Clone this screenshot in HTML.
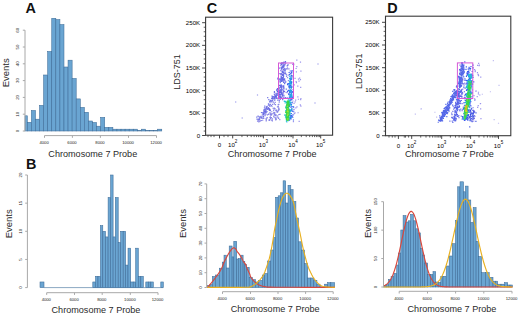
<!DOCTYPE html>
<html><head><meta charset="utf-8"><style>
html,body{margin:0;padding:0;background:#fff;}
body{width:520px;height:314px;overflow:hidden;}
svg{display:block;font-family:"Liberation Sans", sans-serif;}
</style></head><body>
<svg width="520" height="314" viewBox="0 0 520 314">
<rect width="520" height="314" fill="#fff"/>
<text x="25.5" y="12.8" font-size="14.4" text-anchor="start" font-weight="bold" fill="#111" >A</text>
<g fill="#6aa5d2" stroke="#3d6c98" stroke-width="0.55">
<rect x="25" y="115.8" width="2.3" height="15.2"/>
<rect x="27.3" y="122.3" width="4.07" height="8.7"/>
<rect x="31.38" y="110.5" width="4.08" height="20.5"/>
<rect x="35.45" y="119.2" width="4.08" height="11.8"/>
<rect x="39.53" y="105.4" width="4.08" height="25.6"/>
<rect x="43.6" y="75" width="4.08" height="56"/>
<rect x="47.67" y="51.5" width="4.08" height="79.5"/>
<rect x="51.75" y="18.3" width="4.08" height="112.7"/>
<rect x="55.83" y="19.6" width="4.08" height="111.4"/>
<rect x="59.9" y="24.6" width="4.08" height="106.4"/>
<rect x="63.98" y="67" width="4.08" height="64"/>
<rect x="68.05" y="60.2" width="4.08" height="70.8"/>
<rect x="72.12" y="78.5" width="4.08" height="52.5"/>
<rect x="76.2" y="98.9" width="4.08" height="32.1"/>
<rect x="80.28" y="107.4" width="4.08" height="23.6"/>
<rect x="84.35" y="112.3" width="4.08" height="18.7"/>
<rect x="88.42" y="121" width="4.08" height="10"/>
<rect x="92.5" y="122.5" width="4.08" height="8.5"/>
<rect x="96.58" y="126.2" width="4.08" height="4.8"/>
<rect x="100.65" y="117.4" width="4.08" height="13.6"/>
<rect x="104.72" y="127.4" width="4.08" height="3.6"/>
<rect x="108.8" y="127.4" width="4.08" height="3.6"/>
<rect x="112.88" y="129.2" width="4.08" height="1.8"/>
<rect x="116.95" y="129.2" width="4.08" height="1.8"/>
<rect x="121.03" y="129.2" width="4.08" height="1.8"/>
<rect x="125.1" y="129.2" width="4.08" height="1.8"/>
<rect x="129.18" y="129.2" width="4.07" height="1.8"/>
<rect x="133.25" y="129.2" width="4.07" height="1.8"/>
<rect x="137.33" y="130.7" width="4.07" height="0.3"/>
<rect x="141.4" y="129.2" width="4.07" height="1.8"/>
<rect x="145.48" y="130.7" width="4.07" height="0.3"/>
<rect x="149.55" y="130.7" width="4.07" height="0.3"/>
<rect x="153.62" y="130.7" width="4.07" height="0.3"/>
<rect x="157.7" y="129.2" width="4.07" height="1.8"/>
</g>
<line x1="25" y1="131" x2="25" y2="30.2" stroke="#a8a8a8" stroke-width="1.0"/>
<line x1="22.8" y1="131" x2="25" y2="131" stroke="#a8a8a8" stroke-width="1.0"/>
<text transform="translate(19.2,131) rotate(-90)" font-size="4.4" text-anchor="middle" font-weight="normal" fill="#222" >0</text>
<line x1="22.8" y1="114.2" x2="25" y2="114.2" stroke="#a8a8a8" stroke-width="1.0"/>
<text transform="translate(19.2,114.2) rotate(-90)" font-size="4.4" text-anchor="middle" font-weight="normal" fill="#222" >10</text>
<line x1="22.8" y1="97.4" x2="25" y2="97.4" stroke="#a8a8a8" stroke-width="1.0"/>
<text transform="translate(19.2,97.4) rotate(-90)" font-size="4.4" text-anchor="middle" font-weight="normal" fill="#222" >20</text>
<line x1="22.8" y1="80.6" x2="25" y2="80.6" stroke="#a8a8a8" stroke-width="1.0"/>
<text transform="translate(19.2,80.6) rotate(-90)" font-size="4.4" text-anchor="middle" font-weight="normal" fill="#222" >30</text>
<line x1="22.8" y1="63.8" x2="25" y2="63.8" stroke="#a8a8a8" stroke-width="1.0"/>
<text transform="translate(19.2,63.8) rotate(-90)" font-size="4.4" text-anchor="middle" font-weight="normal" fill="#222" >40</text>
<line x1="22.8" y1="47" x2="25" y2="47" stroke="#a8a8a8" stroke-width="1.0"/>
<text transform="translate(19.2,47) rotate(-90)" font-size="4.4" text-anchor="middle" font-weight="normal" fill="#222" >50</text>
<line x1="22.8" y1="30.2" x2="25" y2="30.2" stroke="#a8a8a8" stroke-width="1.0"/>
<text transform="translate(19.2,30.2) rotate(-90)" font-size="4.4" text-anchor="middle" font-weight="normal" fill="#222" >60</text>
<line x1="44.5" y1="135.6" x2="156.5" y2="135.6" stroke="#a8a8a8" stroke-width="1.0"/>
<line x1="44.5" y1="135.6" x2="44.5" y2="137.8" stroke="#a8a8a8" stroke-width="1.0"/>
<text x="44.1" y="144" font-size="4.2" text-anchor="middle" font-weight="normal" fill="#222" >4000</text>
<line x1="72.4" y1="135.6" x2="72.4" y2="137.8" stroke="#a8a8a8" stroke-width="1.0"/>
<text x="72" y="144" font-size="4.2" text-anchor="middle" font-weight="normal" fill="#222" >6000</text>
<line x1="100.4" y1="135.6" x2="100.4" y2="137.8" stroke="#a8a8a8" stroke-width="1.0"/>
<text x="100" y="144" font-size="4.2" text-anchor="middle" font-weight="normal" fill="#222" >8000</text>
<line x1="128.5" y1="135.6" x2="128.5" y2="137.8" stroke="#a8a8a8" stroke-width="1.0"/>
<text x="128.1" y="144" font-size="4.2" text-anchor="middle" font-weight="normal" fill="#222" >10000</text>
<line x1="156.5" y1="135.6" x2="156.5" y2="137.8" stroke="#a8a8a8" stroke-width="1.0"/>
<text x="156.1" y="144" font-size="4.2" text-anchor="middle" font-weight="normal" fill="#222" >12000</text>
<text x="48.34" y="157.3" font-size="9.1" fill="#2a2a2a" textLength="88.9" lengthAdjust="spacingAndGlyphs">Chromosome 7 Probe</text>
<text transform="translate(9.1,72.85) rotate(-90)" font-size="9.3" fill="#2a2a2a" text-anchor="middle" textLength="29" lengthAdjust="spacingAndGlyphs">Events</text>
<text x="25.9" y="168.5" font-size="14.4" text-anchor="start" font-weight="bold" fill="#111" >B</text>
<line x1="44" y1="287.6" x2="163.3" y2="287.6" stroke="#3d6c98" stroke-width="0.6"/>
<g fill="#6aa5d2" stroke="#3d6c98" stroke-width="0.55">
<rect x="40" y="281.97" width="4" height="5.63"/>
<rect x="92.8" y="281.97" width="2.7" height="5.63"/>
<rect x="95.5" y="276.34" width="2.5" height="11.26"/>
<rect x="98" y="276.34" width="2.4" height="11.26"/>
<rect x="100.4" y="225.67" width="2.4" height="61.93"/>
<rect x="102.8" y="231.3" width="2.7" height="56.3"/>
<rect x="105.5" y="236.93" width="2.6" height="50.67"/>
<rect x="108.1" y="197.52" width="2.5" height="90.08"/>
<rect x="110.6" y="175" width="2.5" height="112.6"/>
<rect x="113.1" y="236.93" width="2.2" height="50.67"/>
<rect x="115.3" y="197.52" width="2.9" height="90.08"/>
<rect x="118.2" y="242.56" width="2.4" height="45.04"/>
<rect x="120.6" y="231.3" width="2.6" height="56.3"/>
<rect x="123.2" y="231.3" width="2.4" height="56.3"/>
<rect x="125.6" y="265.08" width="2.4" height="22.52"/>
<rect x="128" y="248.19" width="2.7" height="39.41"/>
<rect x="130.7" y="281.97" width="2.5" height="5.63"/>
<rect x="133.2" y="281.97" width="2.5" height="5.63"/>
<rect x="135.7" y="248.19" width="2.6" height="39.41"/>
<rect x="138.3" y="276.34" width="2.5" height="11.26"/>
<rect x="140.8" y="276.34" width="2.5" height="11.26"/>
<rect x="145.8" y="281.97" width="2.5" height="5.63"/>
<rect x="148.3" y="281.97" width="2.5" height="5.63"/>
<rect x="150.8" y="281.97" width="2.5" height="5.63"/>
<rect x="160.8" y="281.97" width="2.5" height="5.63"/>
</g>
<line x1="27.4" y1="287.6" x2="27.4" y2="175" stroke="#a8a8a8" stroke-width="1.0"/>
<line x1="25.2" y1="287.6" x2="27.4" y2="287.6" stroke="#a8a8a8" stroke-width="1.0"/>
<text transform="translate(22,287.6) rotate(-90)" font-size="4.4" text-anchor="middle" font-weight="normal" fill="#222" >0</text>
<line x1="25.2" y1="259.45" x2="27.4" y2="259.45" stroke="#a8a8a8" stroke-width="1.0"/>
<text transform="translate(22,259.45) rotate(-90)" font-size="4.4" text-anchor="middle" font-weight="normal" fill="#222" >5</text>
<line x1="25.2" y1="231.3" x2="27.4" y2="231.3" stroke="#a8a8a8" stroke-width="1.0"/>
<text transform="translate(22,231.3) rotate(-90)" font-size="4.4" text-anchor="middle" font-weight="normal" fill="#222" >10</text>
<line x1="25.2" y1="203.15" x2="27.4" y2="203.15" stroke="#a8a8a8" stroke-width="1.0"/>
<text transform="translate(22,203.15) rotate(-90)" font-size="4.4" text-anchor="middle" font-weight="normal" fill="#222" >15</text>
<line x1="25.2" y1="175" x2="27.4" y2="175" stroke="#a8a8a8" stroke-width="1.0"/>
<text transform="translate(22,175) rotate(-90)" font-size="4.4" text-anchor="middle" font-weight="normal" fill="#222" >20</text>
<line x1="46.7" y1="292.7" x2="158" y2="292.7" stroke="#a8a8a8" stroke-width="1.0"/>
<line x1="46.7" y1="292.7" x2="46.7" y2="294.9" stroke="#a8a8a8" stroke-width="1.0"/>
<text x="46.3" y="300.5" font-size="4.2" text-anchor="middle" font-weight="normal" fill="#222" >4000</text>
<line x1="74.5" y1="292.7" x2="74.5" y2="294.9" stroke="#a8a8a8" stroke-width="1.0"/>
<text x="74.1" y="300.5" font-size="4.2" text-anchor="middle" font-weight="normal" fill="#222" >6000</text>
<line x1="102.2" y1="292.7" x2="102.2" y2="294.9" stroke="#a8a8a8" stroke-width="1.0"/>
<text x="101.8" y="300.5" font-size="4.2" text-anchor="middle" font-weight="normal" fill="#222" >8000</text>
<line x1="130.3" y1="292.7" x2="130.3" y2="294.9" stroke="#a8a8a8" stroke-width="1.0"/>
<text x="129.9" y="300.5" font-size="4.2" text-anchor="middle" font-weight="normal" fill="#222" >10000</text>
<line x1="158" y1="292.7" x2="158" y2="294.9" stroke="#a8a8a8" stroke-width="1.0"/>
<text x="157.6" y="300.5" font-size="4.2" text-anchor="middle" font-weight="normal" fill="#222" >12000</text>
<text x="51.54" y="312.6" font-size="9.1" fill="#2a2a2a" textLength="88.9" lengthAdjust="spacingAndGlyphs">Chromosome 7 Probe</text>
<text transform="translate(12.1,223.8) rotate(-90)" font-size="9.3" fill="#2a2a2a" text-anchor="middle" textLength="29" lengthAdjust="spacingAndGlyphs">Events</text>
<text x="206.8" y="12.8" font-size="14.4" text-anchor="start" font-weight="bold" fill="#111" >C</text>
<rect x="205.6" y="17.2" width="127" height="118" fill="none" stroke="#3a3a3a" stroke-width="1.1"/>
<line x1="202.1" y1="22.7" x2="205.6" y2="22.7" stroke="#333" stroke-width="0.9"/>
<text x="200.1" y="24.8" font-size="6.1" text-anchor="end" font-weight="normal" fill="#000" >250K</text>
<line x1="202.1" y1="45.35" x2="205.6" y2="45.35" stroke="#333" stroke-width="0.9"/>
<text x="200.1" y="47.45" font-size="6.1" text-anchor="end" font-weight="normal" fill="#000" >200K</text>
<line x1="202.1" y1="68" x2="205.6" y2="68" stroke="#333" stroke-width="0.9"/>
<text x="200.1" y="70.1" font-size="6.1" text-anchor="end" font-weight="normal" fill="#000" >150K</text>
<line x1="202.1" y1="90.65" x2="205.6" y2="90.65" stroke="#333" stroke-width="0.9"/>
<text x="200.1" y="92.75" font-size="6.1" text-anchor="end" font-weight="normal" fill="#000" >100K</text>
<line x1="202.1" y1="113.3" x2="205.6" y2="113.3" stroke="#333" stroke-width="0.9"/>
<text x="200.1" y="115.4" font-size="6.1" text-anchor="end" font-weight="normal" fill="#000" >50K</text>
<line x1="202.1" y1="135.5" x2="205.6" y2="135.5" stroke="#333" stroke-width="0.9"/>
<text x="200.1" y="137.6" font-size="6.1" text-anchor="end" font-weight="normal" fill="#000" >0</text>
<line x1="219.5" y1="135.2" x2="219.5" y2="138.4" stroke="#333" stroke-width="0.9"/>
<text x="219.5" y="146.6" font-size="6.1" text-anchor="middle" font-weight="normal" fill="#000" >0</text>
<line x1="232.7" y1="135.2" x2="232.7" y2="138.4" stroke="#333" stroke-width="0.9"/>
<text x="232.7" y="146.6" font-size="6.1" text-anchor="middle" fill="#000">10<tspan font-size="4.5" dy="-3.6">2</tspan></text>
<line x1="263.4" y1="135.2" x2="263.4" y2="138.4" stroke="#333" stroke-width="0.9"/>
<text x="263.4" y="146.6" font-size="6.1" text-anchor="middle" fill="#000">10<tspan font-size="4.5" dy="-3.6">3</tspan></text>
<line x1="293" y1="135.2" x2="293" y2="138.4" stroke="#333" stroke-width="0.9"/>
<text x="293" y="146.6" font-size="6.1" text-anchor="middle" fill="#000">10<tspan font-size="4.5" dy="-3.6">4</tspan></text>
<line x1="320.7" y1="135.2" x2="320.7" y2="138.4" stroke="#333" stroke-width="0.9"/>
<text x="320.7" y="146.6" font-size="6.1" text-anchor="middle" fill="#000">10<tspan font-size="4.5" dy="-3.6">5</tspan></text>
<text transform="translate(179.9,72.1) rotate(-90)" font-size="9.0" fill="#2a2a2a" text-anchor="middle">LDS-751</text>
<text x="227.74" y="157.4" font-size="9.1" fill="#2a2a2a" textLength="88.9" lengthAdjust="spacingAndGlyphs">Chromosome 7 Probe</text>
<line x1="203.7" y1="27.23" x2="205.6" y2="27.23" stroke="#333" stroke-width="0.75"/>
<line x1="203.7" y1="31.76" x2="205.6" y2="31.76" stroke="#333" stroke-width="0.75"/>
<line x1="203.7" y1="36.29" x2="205.6" y2="36.29" stroke="#333" stroke-width="0.75"/>
<line x1="203.7" y1="40.82" x2="205.6" y2="40.82" stroke="#333" stroke-width="0.75"/>
<line x1="203.7" y1="49.88" x2="205.6" y2="49.88" stroke="#333" stroke-width="0.75"/>
<line x1="203.7" y1="54.41" x2="205.6" y2="54.41" stroke="#333" stroke-width="0.75"/>
<line x1="203.7" y1="58.94" x2="205.6" y2="58.94" stroke="#333" stroke-width="0.75"/>
<line x1="203.7" y1="63.47" x2="205.6" y2="63.47" stroke="#333" stroke-width="0.75"/>
<line x1="203.7" y1="72.53" x2="205.6" y2="72.53" stroke="#333" stroke-width="0.75"/>
<line x1="203.7" y1="77.06" x2="205.6" y2="77.06" stroke="#333" stroke-width="0.75"/>
<line x1="203.7" y1="81.59" x2="205.6" y2="81.59" stroke="#333" stroke-width="0.75"/>
<line x1="203.7" y1="86.12" x2="205.6" y2="86.12" stroke="#333" stroke-width="0.75"/>
<line x1="203.7" y1="95.18" x2="205.6" y2="95.18" stroke="#333" stroke-width="0.75"/>
<line x1="203.7" y1="99.71" x2="205.6" y2="99.71" stroke="#333" stroke-width="0.75"/>
<line x1="203.7" y1="104.24" x2="205.6" y2="104.24" stroke="#333" stroke-width="0.75"/>
<line x1="203.7" y1="108.77" x2="205.6" y2="108.77" stroke="#333" stroke-width="0.75"/>
<line x1="203.7" y1="117.74" x2="205.6" y2="117.74" stroke="#333" stroke-width="0.75"/>
<line x1="203.7" y1="122.18" x2="205.6" y2="122.18" stroke="#333" stroke-width="0.75"/>
<line x1="203.7" y1="126.62" x2="205.6" y2="126.62" stroke="#333" stroke-width="0.75"/>
<line x1="203.7" y1="131.06" x2="205.6" y2="131.06" stroke="#333" stroke-width="0.75"/>
<line x1="241.94" y1="135.2" x2="241.94" y2="137.1" stroke="#333" stroke-width="0.75"/>
<line x1="247.35" y1="135.2" x2="247.35" y2="137.1" stroke="#333" stroke-width="0.75"/>
<line x1="251.18" y1="135.2" x2="251.18" y2="137.1" stroke="#333" stroke-width="0.75"/>
<line x1="254.16" y1="135.2" x2="254.16" y2="137.1" stroke="#333" stroke-width="0.75"/>
<line x1="256.59" y1="135.2" x2="256.59" y2="137.1" stroke="#333" stroke-width="0.75"/>
<line x1="258.64" y1="135.2" x2="258.64" y2="137.1" stroke="#333" stroke-width="0.75"/>
<line x1="260.42" y1="135.2" x2="260.42" y2="137.1" stroke="#333" stroke-width="0.75"/>
<line x1="262" y1="135.2" x2="262" y2="137.1" stroke="#333" stroke-width="0.75"/>
<line x1="272.31" y1="135.2" x2="272.31" y2="137.1" stroke="#333" stroke-width="0.75"/>
<line x1="277.52" y1="135.2" x2="277.52" y2="137.1" stroke="#333" stroke-width="0.75"/>
<line x1="281.22" y1="135.2" x2="281.22" y2="137.1" stroke="#333" stroke-width="0.75"/>
<line x1="284.09" y1="135.2" x2="284.09" y2="137.1" stroke="#333" stroke-width="0.75"/>
<line x1="286.43" y1="135.2" x2="286.43" y2="137.1" stroke="#333" stroke-width="0.75"/>
<line x1="288.41" y1="135.2" x2="288.41" y2="137.1" stroke="#333" stroke-width="0.75"/>
<line x1="290.13" y1="135.2" x2="290.13" y2="137.1" stroke="#333" stroke-width="0.75"/>
<line x1="291.65" y1="135.2" x2="291.65" y2="137.1" stroke="#333" stroke-width="0.75"/>
<line x1="301.34" y1="135.2" x2="301.34" y2="137.1" stroke="#333" stroke-width="0.75"/>
<line x1="306.22" y1="135.2" x2="306.22" y2="137.1" stroke="#333" stroke-width="0.75"/>
<line x1="309.68" y1="135.2" x2="309.68" y2="137.1" stroke="#333" stroke-width="0.75"/>
<line x1="312.36" y1="135.2" x2="312.36" y2="137.1" stroke="#333" stroke-width="0.75"/>
<line x1="314.55" y1="135.2" x2="314.55" y2="137.1" stroke="#333" stroke-width="0.75"/>
<line x1="316.41" y1="135.2" x2="316.41" y2="137.1" stroke="#333" stroke-width="0.75"/>
<line x1="318.02" y1="135.2" x2="318.02" y2="137.1" stroke="#333" stroke-width="0.75"/>
<line x1="319.43" y1="135.2" x2="319.43" y2="137.1" stroke="#333" stroke-width="0.75"/>
<line x1="208" y1="135.2" x2="208" y2="137.1" stroke="#333" stroke-width="0.75"/>
<line x1="211" y1="135.2" x2="211" y2="137.1" stroke="#333" stroke-width="0.75"/>
<line x1="214" y1="135.2" x2="214" y2="137.1" stroke="#333" stroke-width="0.75"/>
<line x1="224" y1="135.2" x2="224" y2="137.1" stroke="#333" stroke-width="0.75"/>
<line x1="228" y1="135.2" x2="228" y2="137.1" stroke="#333" stroke-width="0.75"/>
<text x="387.2" y="12.8" font-size="14.4" text-anchor="start" font-weight="bold" fill="#111" >D</text>
<rect x="385.5" y="16.2" width="125.3" height="119.5" fill="none" stroke="#3a3a3a" stroke-width="1.1"/>
<line x1="382" y1="22.3" x2="385.5" y2="22.3" stroke="#333" stroke-width="0.9"/>
<text x="379.6" y="24.4" font-size="6.1" text-anchor="end" font-weight="normal" fill="#000" >250K</text>
<line x1="382" y1="45" x2="385.5" y2="45" stroke="#333" stroke-width="0.9"/>
<text x="379.6" y="47.1" font-size="6.1" text-anchor="end" font-weight="normal" fill="#000" >200K</text>
<line x1="382" y1="67.7" x2="385.5" y2="67.7" stroke="#333" stroke-width="0.9"/>
<text x="379.6" y="69.8" font-size="6.1" text-anchor="end" font-weight="normal" fill="#000" >150K</text>
<line x1="382" y1="90.3" x2="385.5" y2="90.3" stroke="#333" stroke-width="0.9"/>
<text x="379.6" y="92.4" font-size="6.1" text-anchor="end" font-weight="normal" fill="#000" >100K</text>
<line x1="382" y1="113" x2="385.5" y2="113" stroke="#333" stroke-width="0.9"/>
<text x="379.6" y="115.1" font-size="6.1" text-anchor="end" font-weight="normal" fill="#000" >50K</text>
<line x1="382" y1="135.7" x2="385.5" y2="135.7" stroke="#333" stroke-width="0.9"/>
<text x="379.6" y="137.8" font-size="6.1" text-anchor="end" font-weight="normal" fill="#000" >0</text>
<line x1="398.4" y1="135.7" x2="398.4" y2="138.9" stroke="#333" stroke-width="0.9"/>
<text x="398.4" y="147.6" font-size="6.1" text-anchor="middle" font-weight="normal" fill="#000" >0</text>
<line x1="411.7" y1="135.7" x2="411.7" y2="138.9" stroke="#333" stroke-width="0.9"/>
<text x="411.7" y="147.6" font-size="6.1" text-anchor="middle" fill="#000">10<tspan font-size="4.5" dy="-3.6">2</tspan></text>
<line x1="441.7" y1="135.7" x2="441.7" y2="138.9" stroke="#333" stroke-width="0.9"/>
<text x="441.7" y="147.6" font-size="6.1" text-anchor="middle" fill="#000">10<tspan font-size="4.5" dy="-3.6">3</tspan></text>
<line x1="470.6" y1="135.7" x2="470.6" y2="138.9" stroke="#333" stroke-width="0.9"/>
<text x="470.6" y="147.6" font-size="6.1" text-anchor="middle" fill="#000">10<tspan font-size="4.5" dy="-3.6">4</tspan></text>
<line x1="498.5" y1="135.7" x2="498.5" y2="138.9" stroke="#333" stroke-width="0.9"/>
<text x="498.5" y="147.6" font-size="6.1" text-anchor="middle" fill="#000">10<tspan font-size="4.5" dy="-3.6">5</tspan></text>
<text transform="translate(362,71.3) rotate(-90)" font-size="9.0" fill="#2a2a2a" text-anchor="middle">LDS-751</text>
<text x="404.94" y="157.4" font-size="9.1" fill="#2a2a2a" textLength="88.9" lengthAdjust="spacingAndGlyphs">Chromosome 7 Probe</text>
<line x1="383.6" y1="26.84" x2="385.5" y2="26.84" stroke="#333" stroke-width="0.75"/>
<line x1="383.6" y1="31.38" x2="385.5" y2="31.38" stroke="#333" stroke-width="0.75"/>
<line x1="383.6" y1="35.92" x2="385.5" y2="35.92" stroke="#333" stroke-width="0.75"/>
<line x1="383.6" y1="40.46" x2="385.5" y2="40.46" stroke="#333" stroke-width="0.75"/>
<line x1="383.6" y1="49.54" x2="385.5" y2="49.54" stroke="#333" stroke-width="0.75"/>
<line x1="383.6" y1="54.08" x2="385.5" y2="54.08" stroke="#333" stroke-width="0.75"/>
<line x1="383.6" y1="58.62" x2="385.5" y2="58.62" stroke="#333" stroke-width="0.75"/>
<line x1="383.6" y1="63.16" x2="385.5" y2="63.16" stroke="#333" stroke-width="0.75"/>
<line x1="383.6" y1="72.22" x2="385.5" y2="72.22" stroke="#333" stroke-width="0.75"/>
<line x1="383.6" y1="76.74" x2="385.5" y2="76.74" stroke="#333" stroke-width="0.75"/>
<line x1="383.6" y1="81.26" x2="385.5" y2="81.26" stroke="#333" stroke-width="0.75"/>
<line x1="383.6" y1="85.78" x2="385.5" y2="85.78" stroke="#333" stroke-width="0.75"/>
<line x1="383.6" y1="94.84" x2="385.5" y2="94.84" stroke="#333" stroke-width="0.75"/>
<line x1="383.6" y1="99.38" x2="385.5" y2="99.38" stroke="#333" stroke-width="0.75"/>
<line x1="383.6" y1="103.92" x2="385.5" y2="103.92" stroke="#333" stroke-width="0.75"/>
<line x1="383.6" y1="108.46" x2="385.5" y2="108.46" stroke="#333" stroke-width="0.75"/>
<line x1="383.6" y1="117.54" x2="385.5" y2="117.54" stroke="#333" stroke-width="0.75"/>
<line x1="383.6" y1="122.08" x2="385.5" y2="122.08" stroke="#333" stroke-width="0.75"/>
<line x1="383.6" y1="126.62" x2="385.5" y2="126.62" stroke="#333" stroke-width="0.75"/>
<line x1="383.6" y1="131.16" x2="385.5" y2="131.16" stroke="#333" stroke-width="0.75"/>
<line x1="420.73" y1="135.7" x2="420.73" y2="137.6" stroke="#333" stroke-width="0.75"/>
<line x1="426.01" y1="135.7" x2="426.01" y2="137.6" stroke="#333" stroke-width="0.75"/>
<line x1="429.76" y1="135.7" x2="429.76" y2="137.6" stroke="#333" stroke-width="0.75"/>
<line x1="432.67" y1="135.7" x2="432.67" y2="137.6" stroke="#333" stroke-width="0.75"/>
<line x1="435.04" y1="135.7" x2="435.04" y2="137.6" stroke="#333" stroke-width="0.75"/>
<line x1="437.05" y1="135.7" x2="437.05" y2="137.6" stroke="#333" stroke-width="0.75"/>
<line x1="438.79" y1="135.7" x2="438.79" y2="137.6" stroke="#333" stroke-width="0.75"/>
<line x1="440.33" y1="135.7" x2="440.33" y2="137.6" stroke="#333" stroke-width="0.75"/>
<line x1="450.4" y1="135.7" x2="450.4" y2="137.6" stroke="#333" stroke-width="0.75"/>
<line x1="455.49" y1="135.7" x2="455.49" y2="137.6" stroke="#333" stroke-width="0.75"/>
<line x1="459.1" y1="135.7" x2="459.1" y2="137.6" stroke="#333" stroke-width="0.75"/>
<line x1="461.9" y1="135.7" x2="461.9" y2="137.6" stroke="#333" stroke-width="0.75"/>
<line x1="464.19" y1="135.7" x2="464.19" y2="137.6" stroke="#333" stroke-width="0.75"/>
<line x1="466.12" y1="135.7" x2="466.12" y2="137.6" stroke="#333" stroke-width="0.75"/>
<line x1="467.8" y1="135.7" x2="467.8" y2="137.6" stroke="#333" stroke-width="0.75"/>
<line x1="469.28" y1="135.7" x2="469.28" y2="137.6" stroke="#333" stroke-width="0.75"/>
<line x1="479" y1="135.7" x2="479" y2="137.6" stroke="#333" stroke-width="0.75"/>
<line x1="483.91" y1="135.7" x2="483.91" y2="137.6" stroke="#333" stroke-width="0.75"/>
<line x1="487.4" y1="135.7" x2="487.4" y2="137.6" stroke="#333" stroke-width="0.75"/>
<line x1="490.1" y1="135.7" x2="490.1" y2="137.6" stroke="#333" stroke-width="0.75"/>
<line x1="492.31" y1="135.7" x2="492.31" y2="137.6" stroke="#333" stroke-width="0.75"/>
<line x1="494.18" y1="135.7" x2="494.18" y2="137.6" stroke="#333" stroke-width="0.75"/>
<line x1="495.8" y1="135.7" x2="495.8" y2="137.6" stroke="#333" stroke-width="0.75"/>
<line x1="497.22" y1="135.7" x2="497.22" y2="137.6" stroke="#333" stroke-width="0.75"/>
<line x1="389" y1="135.7" x2="389" y2="137.6" stroke="#333" stroke-width="0.75"/>
<line x1="392.3" y1="135.7" x2="392.3" y2="137.6" stroke="#333" stroke-width="0.75"/>
<line x1="395" y1="135.7" x2="395" y2="137.6" stroke="#333" stroke-width="0.75"/>
<line x1="404.3" y1="135.7" x2="404.3" y2="137.6" stroke="#333" stroke-width="0.75"/>
<line x1="405.5" y1="135.7" x2="405.5" y2="137.6" stroke="#333" stroke-width="0.75"/>
<line x1="408.6" y1="135.7" x2="408.6" y2="137.6" stroke="#333" stroke-width="0.75"/>
<path d="M276.55 111.86h1.2v1.2h-1.2zM263.23 114.03h1.2v1.2h-1.2zM269 109.11h1.2v1.2h-1.2zM278.07 94.15h1.2v1.2h-1.2zM277.79 97.47h1.2v1.2h-1.2zM259.96 120.32h1.2v1.2h-1.2zM264.17 108.76h1.2v1.2h-1.2zM274.35 98.53h1.2v1.2h-1.2zM279.4 113.69h1.2v1.2h-1.2zM268.33 119.47h1.2v1.2h-1.2zM268.27 113.31h1.2v1.2h-1.2zM274.94 118.19h1.2v1.2h-1.2zM277.21 115.33h1.2v1.2h-1.2zM269.22 117.13h1.2v1.2h-1.2zM276.91 106.34h1.2v1.2h-1.2zM278.65 101.61h1.2v1.2h-1.2zM265.83 106h1.2v1.2h-1.2zM269.01 108.45h1.2v1.2h-1.2zM277.76 109.75h1.2v1.2h-1.2zM257.54 119.93h1.2v1.2h-1.2zM272.07 103.7h1.2v1.2h-1.2zM274.53 97.53h1.2v1.2h-1.2zM273.7 107.54h1.2v1.2h-1.2zM261.64 114.41h1.2v1.2h-1.2zM258.64 119.05h1.2v1.2h-1.2zM277.71 105.76h1.2v1.2h-1.2zM274.1 112.43h1.2v1.2h-1.2zM262.56 114.38h1.2v1.2h-1.2zM271.14 111.14h1.2v1.2h-1.2zM270.83 117.1h1.2v1.2h-1.2zM269.96 118.11h1.2v1.2h-1.2zM278.26 113.88h1.2v1.2h-1.2zM276.86 88.05h1.2v1.2h-1.2zM272.86 101.51h1.2v1.2h-1.2zM265.42 118.19h1.2v1.2h-1.2zM262.09 119.63h1.2v1.2h-1.2zM265.6 120.25h1.2v1.2h-1.2zM256.95 120.63h1.2v1.2h-1.2zM277.5 93.01h1.2v1.2h-1.2zM265.67 111.95h1.2v1.2h-1.2zM266.87 114.27h1.2v1.2h-1.2zM269.11 104.95h1.2v1.2h-1.2zM269.02 119.92h1.2v1.2h-1.2zM269.34 105.83h1.2v1.2h-1.2zM274.93 115.09h1.2v1.2h-1.2zM269.75 109.16h1.2v1.2h-1.2zM258.99 120.6h1.2v1.2h-1.2zM275.99 109.6h1.2v1.2h-1.2zM269.14 119.06h1.2v1.2h-1.2zM269.98 103.86h1.2v1.2h-1.2zM275.42 114.24h1.2v1.2h-1.2zM273.51 108.4h1.2v1.2h-1.2zM271.81 98.19h1.2v1.2h-1.2zM269.71 114.13h1.2v1.2h-1.2zM277.04 99.57h1.2v1.2h-1.2zM260.77 119.89h1.2v1.2h-1.2zM265.19 113.86h1.2v1.2h-1.2zM271.59 119.88h1.2v1.2h-1.2zM260.25 115.85h1.2v1.2h-1.2zM271.14 119.47h1.2v1.2h-1.2zM278.11 108.53h1.2v1.2h-1.2zM278.39 109.32h1.2v1.2h-1.2zM274.55 117.12h1.2v1.2h-1.2zM274.28 97.59h1.2v1.2h-1.2zM273.93 113.7h1.2v1.2h-1.2zM269.13 109.48h1.2v1.2h-1.2zM273.3 116.19h1.2v1.2h-1.2zM276.96 91.11h1.2v1.2h-1.2zM277.17 88.31h1.2v1.2h-1.2zM278.98 92.26h1.2v1.2h-1.2zM266.65 116.94h1.2v1.2h-1.2zM267.85 113.9h1.2v1.2h-1.2zM269.1 105.2h1.2v1.2h-1.2zM272.48 107.67h1.2v1.2h-1.2zM273.44 98.25h1.2v1.2h-1.2zM278.05 117.74h1.2v1.2h-1.2zM265.46 108.53h1.2v1.2h-1.2zM267.07 107.41h1.2v1.2h-1.2zM270.35 114.71h1.2v1.2h-1.2zM278.23 90.87h1.2v1.2h-1.2zM268.35 108.97h1.2v1.2h-1.2zM264.45 110.84h1.2v1.2h-1.2zM269.75 116.36h1.2v1.2h-1.2zM277.71 117.33h1.2v1.2h-1.2zM278.35 89.54h1.2v1.2h-1.2zM271.77 120.39h1.2v1.2h-1.2zM274.33 108.13h1.2v1.2h-1.2zM269.99 113.24h1.2v1.2h-1.2zM278.82 99.98h1.2v1.2h-1.2zM275.16 119.3h1.2v1.2h-1.2zM266 106.99h1.2v1.2h-1.2zM276.43 93.01h1.2v1.2h-1.2zM277.66 104.05h1.2v1.2h-1.2zM274.69 108.38h1.2v1.2h-1.2zM266.14 117.56h1.2v1.2h-1.2zM276.37 97.86h1.2v1.2h-1.2zM260.06 116.32h1.2v1.2h-1.2zM278.6 108.57h1.2v1.2h-1.2zM276.2 89.84h1.2v1.2h-1.2zM267.89 107.08h1.2v1.2h-1.2zM271.61 97.53h1.2v1.2h-1.2zM274.86 103.9h1.2v1.2h-1.2zM271.2 113.23h1.2v1.2h-1.2zM274.14 112h1.2v1.2h-1.2zM274.74 95.93h1.2v1.2h-1.2zM274.84 104.02h1.2v1.2h-1.2zM271.85 118.3h1.2v1.2h-1.2zM269.36 112h1.2v1.2h-1.2zM277.89 99.4h1.2v1.2h-1.2zM275.23 110.01h1.2v1.2h-1.2zM275.78 118.45h1.2v1.2h-1.2zM263.94 112.4h1.2v1.2h-1.2zM262.89 116.42h1.2v1.2h-1.2zM277.87 88.46h1.2v1.2h-1.2zM259.52 116.43h1.2v1.2h-1.2zM275.59 118.31h1.2v1.2h-1.2zM262.91 117.84h1.2v1.2h-1.2zM265.74 111.17h1.2v1.2h-1.2zM273.08 109.76h1.2v1.2h-1.2zM264.49 115.05h1.2v1.2h-1.2zM270.99 97.84h1.2v1.2h-1.2zM275.16 114.29h1.2v1.2h-1.2zM274.16 99.92h1.2v1.2h-1.2zM270.27 116.99h1.2v1.2h-1.2zM277.07 97.66h1.2v1.2h-1.2zM277.96 94.39h1.2v1.2h-1.2zM263.19 117.72h1.2v1.2h-1.2zM277.32 111.04h1.2v1.2h-1.2zM278.39 91.89h1.2v1.2h-1.2zM275.45 114.78h1.2v1.2h-1.2zM265.09 109.02h1.2v1.2h-1.2zM278.11 107.31h1.2v1.2h-1.2zM265.7 118.96h1.2v1.2h-1.2zM274.58 101.69h1.2v1.2h-1.2zM263.08 112.18h1.2v1.2h-1.2zM271.01 114.15h1.2v1.2h-1.2zM273.73 93.52h1.2v1.2h-1.2zM278.21 103.77h1.2v1.2h-1.2zM273.2 111.84h1.2v1.2h-1.2zM261.16 117.47h1.2v1.2h-1.2zM276.38 116.62h1.2v1.2h-1.2zM273.99 114.4h1.2v1.2h-1.2zM274.2 113.78h1.2v1.2h-1.2zM267.38 107.89h1.2v1.2h-1.2zM276.35 110.8h1.2v1.2h-1.2zM258.25 121.28h1.2v1.2h-1.2zM279.22 119.09h1.2v1.2h-1.2zM273.12 115.43h1.2v1.2h-1.2zM272.58 112.93h1.2v1.2h-1.2zM271.44 98.41h1.2v1.2h-1.2z" fill="#6a66e0" opacity="0.8"/>
<path d="M276.64 94.84h1.2v1.2h-1.2zM265.39 108.02h1.2v1.2h-1.2zM276.08 94.74h1.2v1.2h-1.2zM273.81 91.81h1.2v1.2h-1.2zM268.99 101.22h1.2v1.2h-1.2zM256.41 118.46h1.2v1.2h-1.2zM269.69 110.02h1.2v1.2h-1.2zM259.42 117.36h1.2v1.2h-1.2zM268.08 104.66h1.2v1.2h-1.2zM274.3 96.98h1.2v1.2h-1.2zM272.01 99.95h1.2v1.2h-1.2zM267.87 103.25h1.2v1.2h-1.2zM273.77 103.37h1.2v1.2h-1.2zM271.47 95.38h1.2v1.2h-1.2zM256.2 116.56h1.2v1.2h-1.2zM276.03 89.19h1.2v1.2h-1.2zM271.48 97.72h1.2v1.2h-1.2zM267.93 107.7h1.2v1.2h-1.2zM262.86 115.78h1.2v1.2h-1.2zM274.5 94.67h1.2v1.2h-1.2zM272.65 96.07h1.2v1.2h-1.2zM264.13 110.26h1.2v1.2h-1.2zM280.69 89.9h1.2v1.2h-1.2zM267.1 96.95h1.2v1.2h-1.2zM273.6 97.93h1.2v1.2h-1.2zM263.17 110.22h1.2v1.2h-1.2zM268.83 108.18h1.2v1.2h-1.2zM269.59 100.17h1.2v1.2h-1.2zM264.53 111.22h1.2v1.2h-1.2zM257.48 115.55h1.2v1.2h-1.2zM271.96 96.51h1.2v1.2h-1.2zM268.86 109.51h1.2v1.2h-1.2zM270.69 105.06h1.2v1.2h-1.2zM264.88 110.5h1.2v1.2h-1.2zM266.81 105.63h1.2v1.2h-1.2zM264.2 105.61h1.2v1.2h-1.2zM272.3 98.34h1.2v1.2h-1.2zM262.43 112.47h1.2v1.2h-1.2zM265.44 107.35h1.2v1.2h-1.2zM263.45 112.77h1.2v1.2h-1.2zM263.46 109.1h1.2v1.2h-1.2zM259.12 118.58h1.2v1.2h-1.2zM273.95 94.36h1.2v1.2h-1.2zM266.56 111.15h1.2v1.2h-1.2zM271.45 105.63h1.2v1.2h-1.2zM268.52 103.73h1.2v1.2h-1.2zM271.4 95.45h1.2v1.2h-1.2zM274.58 94.9h1.2v1.2h-1.2zM262.69 112.77h1.2v1.2h-1.2zM257.66 118.82h1.2v1.2h-1.2zM264.21 110.37h1.2v1.2h-1.2zM258.54 116.27h1.2v1.2h-1.2zM261.57 117.57h1.2v1.2h-1.2zM276.98 88.03h1.2v1.2h-1.2zM260.88 116.48h1.2v1.2h-1.2zM262.58 113.69h1.2v1.2h-1.2zM274.45 94.21h1.2v1.2h-1.2zM273.58 96.12h1.2v1.2h-1.2zM263.46 113.01h1.2v1.2h-1.2zM275.37 92.86h1.2v1.2h-1.2zM263.53 113.24h1.2v1.2h-1.2zM274.59 96.42h1.2v1.2h-1.2zM263.86 107.29h1.2v1.2h-1.2zM275.32 94.5h1.2v1.2h-1.2zM272.13 96.22h1.2v1.2h-1.2zM271.23 101.25h1.2v1.2h-1.2zM263.39 111.39h1.2v1.2h-1.2zM268.21 99h1.2v1.2h-1.2zM276.03 93.73h1.2v1.2h-1.2zM262.51 115.69h1.2v1.2h-1.2zM262.75 112.83h1.2v1.2h-1.2zM265.11 110.59h1.2v1.2h-1.2zM272.69 96.18h1.2v1.2h-1.2zM269.83 99.77h1.2v1.2h-1.2zM266.13 107.59h1.2v1.2h-1.2zM271.1 100.25h1.2v1.2h-1.2zM267.03 108.83h1.2v1.2h-1.2zM273.84 91.02h1.2v1.2h-1.2zM273.34 97.15h1.2v1.2h-1.2zM275.82 94.4h1.2v1.2h-1.2zM258.46 118.13h1.2v1.2h-1.2zM261.42 112.12h1.2v1.2h-1.2zM278.11 92.88h1.2v1.2h-1.2zM260.87 111.88h1.2v1.2h-1.2zM264.9 112.18h1.2v1.2h-1.2zM265.53 109.52h1.2v1.2h-1.2zM275.74 95.79h1.2v1.2h-1.2zM275 95.77h1.2v1.2h-1.2zM271.3 99.99h1.2v1.2h-1.2zM269.72 101.37h1.2v1.2h-1.2z" fill="#5a5ee0" opacity="0.85"/>
<path d="M282.22 93.97h1.2v1.2h-1.2zM279.84 95.6h1.2v1.2h-1.2zM284.59 69.66h1.2v1.2h-1.2zM282.69 64.76h1.2v1.2h-1.2zM280.32 91.92h1.2v1.2h-1.2zM283.63 67.75h1.2v1.2h-1.2zM283.95 79.31h1.2v1.2h-1.2zM280.06 91.38h1.2v1.2h-1.2zM280.59 86.41h1.2v1.2h-1.2zM281.85 73.85h1.2v1.2h-1.2zM280.75 89.16h1.2v1.2h-1.2zM280.8 67.32h1.2v1.2h-1.2zM283.03 87.43h1.2v1.2h-1.2zM281.29 76.68h1.2v1.2h-1.2zM283.49 65.46h1.2v1.2h-1.2zM280.41 77.51h1.2v1.2h-1.2zM282.52 79.98h1.2v1.2h-1.2zM282.85 76.36h1.2v1.2h-1.2zM279.61 92.12h1.2v1.2h-1.2zM285.94 75.49h1.2v1.2h-1.2zM282.59 77.37h1.2v1.2h-1.2zM283.85 90.86h1.2v1.2h-1.2zM284.33 70.45h1.2v1.2h-1.2zM280.62 76.94h1.2v1.2h-1.2zM281.07 79.89h1.2v1.2h-1.2zM282.77 78.9h1.2v1.2h-1.2zM281.06 87.57h1.2v1.2h-1.2zM281.2 85.61h1.2v1.2h-1.2zM280.76 84.68h1.2v1.2h-1.2zM277.14 91.35h1.2v1.2h-1.2zM280.13 91.4h1.2v1.2h-1.2zM277.69 77.07h1.2v1.2h-1.2zM282.64 78.59h1.2v1.2h-1.2zM281.07 68.47h1.2v1.2h-1.2zM280.62 77.38h1.2v1.2h-1.2zM279.89 94.03h1.2v1.2h-1.2zM282.75 74.17h1.2v1.2h-1.2zM279.25 79.21h1.2v1.2h-1.2zM278.61 78.25h1.2v1.2h-1.2zM280.8 63.82h1.2v1.2h-1.2zM278.46 72.97h1.2v1.2h-1.2zM278.47 95.08h1.2v1.2h-1.2zM285.63 68.32h1.2v1.2h-1.2zM277.91 97.06h1.2v1.2h-1.2zM281.63 92.78h1.2v1.2h-1.2zM280.25 63.1h1.2v1.2h-1.2zM283.37 61.6h1.2v1.2h-1.2zM280.56 86.2h1.2v1.2h-1.2zM281.88 77.09h1.2v1.2h-1.2zM283.3 73.23h1.2v1.2h-1.2zM283.29 94.81h1.2v1.2h-1.2zM280.71 92.39h1.2v1.2h-1.2zM280.19 96.92h1.2v1.2h-1.2zM280.18 78.2h1.2v1.2h-1.2zM283.64 69.19h1.2v1.2h-1.2zM281.53 77.5h1.2v1.2h-1.2zM281.79 94.37h1.2v1.2h-1.2zM282.72 62.15h1.2v1.2h-1.2zM285.54 73.84h1.2v1.2h-1.2zM276.8 91.11h1.2v1.2h-1.2zM279.51 96.57h1.2v1.2h-1.2zM283.17 85.18h1.2v1.2h-1.2zM281.91 67.19h1.2v1.2h-1.2zM280.94 67.75h1.2v1.2h-1.2zM280.63 85.24h1.2v1.2h-1.2zM277.48 93.84h1.2v1.2h-1.2zM280.65 91.28h1.2v1.2h-1.2zM285.7 88.46h1.2v1.2h-1.2zM285.03 62.53h1.2v1.2h-1.2zM279.43 80.87h1.2v1.2h-1.2zM279.52 86.65h1.2v1.2h-1.2zM280.17 89.57h1.2v1.2h-1.2zM283.82 78.7h1.2v1.2h-1.2zM281.23 62.56h1.2v1.2h-1.2zM278.72 95.79h1.2v1.2h-1.2zM281.84 95.42h1.2v1.2h-1.2zM282.93 85.69h1.2v1.2h-1.2zM282 66.2h1.2v1.2h-1.2zM280.56 66.7h1.2v1.2h-1.2zM277.86 90.68h1.2v1.2h-1.2zM280.75 77.85h1.2v1.2h-1.2zM275.73 97.56h1.2v1.2h-1.2zM284.18 62.24h1.2v1.2h-1.2zM280.66 79.64h1.2v1.2h-1.2zM283.06 75.38h1.2v1.2h-1.2zM285.18 81.35h1.2v1.2h-1.2zM282.93 91.25h1.2v1.2h-1.2zM280.02 73.36h1.2v1.2h-1.2zM284.06 69.2h1.2v1.2h-1.2zM282.12 98.99h1.2v1.2h-1.2zM279.37 90.23h1.2v1.2h-1.2zM278.49 94.07h1.2v1.2h-1.2zM281.12 85.69h1.2v1.2h-1.2zM277.86 89.63h1.2v1.2h-1.2zM284.43 82.17h1.2v1.2h-1.2zM277.12 78.31h1.2v1.2h-1.2zM278.43 90.89h1.2v1.2h-1.2zM281.67 73.81h1.2v1.2h-1.2zM281.35 79.31h1.2v1.2h-1.2zM281.22 88.57h1.2v1.2h-1.2zM280.61 97.09h1.2v1.2h-1.2zM281.54 77.99h1.2v1.2h-1.2zM284.04 78.21h1.2v1.2h-1.2zM276.99 89.41h1.2v1.2h-1.2zM281.95 77.88h1.2v1.2h-1.2zM279.56 86.72h1.2v1.2h-1.2zM282.66 70.61h1.2v1.2h-1.2zM282.75 72.07h1.2v1.2h-1.2zM280.07 79.43h1.2v1.2h-1.2zM281.63 63.27h1.2v1.2h-1.2zM281.66 94.57h1.2v1.2h-1.2zM280.87 93.56h1.2v1.2h-1.2zM279.42 90.28h1.2v1.2h-1.2zM286.61 65.31h1.2v1.2h-1.2zM286.91 67.41h1.2v1.2h-1.2zM278.58 84.66h1.2v1.2h-1.2zM283.05 68.92h1.2v1.2h-1.2zM285.09 97.01h1.2v1.2h-1.2zM283.02 81.83h1.2v1.2h-1.2zM282.33 80.81h1.2v1.2h-1.2zM282.2 66.76h1.2v1.2h-1.2zM279.26 93.75h1.2v1.2h-1.2zM281.97 71.79h1.2v1.2h-1.2zM280.8 80.92h1.2v1.2h-1.2zM282.39 89.22h1.2v1.2h-1.2zM279.26 96.77h1.2v1.2h-1.2zM281.49 70.96h1.2v1.2h-1.2zM278.94 84.87h1.2v1.2h-1.2zM281.86 78.99h1.2v1.2h-1.2zM280.45 75.55h1.2v1.2h-1.2zM279.59 98.75h1.2v1.2h-1.2zM284.42 70.18h1.2v1.2h-1.2zM281.36 91.81h1.2v1.2h-1.2zM283.36 72.15h1.2v1.2h-1.2zM282.87 74.27h1.2v1.2h-1.2zM282.67 65.79h1.2v1.2h-1.2zM281.83 74.87h1.2v1.2h-1.2zM281.13 79.35h1.2v1.2h-1.2zM284.3 64.03h1.2v1.2h-1.2zM278.83 87.51h1.2v1.2h-1.2zM284.91 72.5h1.2v1.2h-1.2zM282.82 64.63h1.2v1.2h-1.2zM280.77 76.24h1.2v1.2h-1.2zM280.58 84.15h1.2v1.2h-1.2zM279.19 92.11h1.2v1.2h-1.2zM282.92 66.2h1.2v1.2h-1.2zM280.87 73.49h1.2v1.2h-1.2zM283.28 86.76h1.2v1.2h-1.2zM281.34 62.1h1.2v1.2h-1.2zM275.69 96.38h1.2v1.2h-1.2zM280.13 84.8h1.2v1.2h-1.2zM278.63 67.6h1.2v1.2h-1.2zM280.58 90.89h1.2v1.2h-1.2zM282.61 90.01h1.2v1.2h-1.2zM281.27 96.38h1.2v1.2h-1.2zM277.88 93.76h1.2v1.2h-1.2zM279.7 86.11h1.2v1.2h-1.2zM283.47 96.57h1.2v1.2h-1.2zM283.17 65.44h1.2v1.2h-1.2zM282.87 63.41h1.2v1.2h-1.2zM284.89 61.02h1.2v1.2h-1.2zM287.45 64.14h1.2v1.2h-1.2zM283.98 83.1h1.2v1.2h-1.2zM280.52 91.09h1.2v1.2h-1.2zM282.51 79.03h1.2v1.2h-1.2zM281.48 94.02h1.2v1.2h-1.2zM281.6 65.62h1.2v1.2h-1.2zM279.64 81.94h1.2v1.2h-1.2zM281.24 86.51h1.2v1.2h-1.2zM280.62 68.32h1.2v1.2h-1.2z" fill="#4a52e0" opacity="0.85"/>
<path d="M279.87 88.97h1.2v1.2h-1.2zM287.08 68.4h1.2v1.2h-1.2zM280.18 64.73h1.2v1.2h-1.2zM290.88 78.52h1.2v1.2h-1.2zM280.11 70.08h1.2v1.2h-1.2zM283.47 91.02h1.2v1.2h-1.2zM285.33 91.64h1.2v1.2h-1.2zM280.05 96.38h1.2v1.2h-1.2zM282.86 92.47h1.2v1.2h-1.2zM282.25 85.36h1.2v1.2h-1.2zM288.39 68.32h1.2v1.2h-1.2zM292.21 91.85h1.2v1.2h-1.2zM283.48 88.34h1.2v1.2h-1.2zM289.47 89.03h1.2v1.2h-1.2zM280.36 87.21h1.2v1.2h-1.2zM286.52 92.11h1.2v1.2h-1.2zM284.46 72.42h1.2v1.2h-1.2zM282.43 86.28h1.2v1.2h-1.2zM289.9 80.54h1.2v1.2h-1.2zM288.85 73.9h1.2v1.2h-1.2zM280.28 73.49h1.2v1.2h-1.2zM282.49 67.15h1.2v1.2h-1.2zM289.87 79.59h1.2v1.2h-1.2zM292.29 75.04h1.2v1.2h-1.2zM286.96 77h1.2v1.2h-1.2zM290.6 92.91h1.2v1.2h-1.2zM292.18 86.62h1.2v1.2h-1.2zM288.77 86.57h1.2v1.2h-1.2zM287.43 97.81h1.2v1.2h-1.2zM281.5 69.46h1.2v1.2h-1.2zM283.59 80.19h1.2v1.2h-1.2zM287.13 64.82h1.2v1.2h-1.2zM291.37 75.93h1.2v1.2h-1.2zM282.63 96.56h1.2v1.2h-1.2zM283.93 64.58h1.2v1.2h-1.2zM278.71 89.44h1.2v1.2h-1.2zM288.15 93.42h1.2v1.2h-1.2zM284.61 80.23h1.2v1.2h-1.2zM289.57 90.91h1.2v1.2h-1.2zM281.67 77.72h1.2v1.2h-1.2zM287.64 74.47h1.2v1.2h-1.2zM287.82 80.11h1.2v1.2h-1.2zM284.9 68.61h1.2v1.2h-1.2zM281.04 72.78h1.2v1.2h-1.2zM284.04 72.7h1.2v1.2h-1.2z" fill="#7064e0" opacity="0.75"/>
<path d="M300.3 105.58h1.2v1.2h-1.2zM294.42 112.28h1.2v1.2h-1.2zM293.46 102.73h1.2v1.2h-1.2zM299.86 78.97h1.2v1.2h-1.2zM292.65 83.65h1.2v1.2h-1.2zM300.09 86.72h1.2v1.2h-1.2zM299.08 77.59h1.2v1.2h-1.2zM297.22 85.53h1.2v1.2h-1.2zM295.25 107.21h1.2v1.2h-1.2zM293.18 64.09h1.2v1.2h-1.2zM292.36 76.55h1.2v1.2h-1.2zM292.33 89.1h1.2v1.2h-1.2zM294.54 101.33h1.2v1.2h-1.2zM295.06 99.45h1.2v1.2h-1.2zM299.71 104.35h1.2v1.2h-1.2zM296.23 65.93h1.2v1.2h-1.2zM300.32 70.61h1.2v1.2h-1.2zM297.89 78.56h1.2v1.2h-1.2zM292.72 76.86h1.2v1.2h-1.2zM296.38 106.25h1.2v1.2h-1.2zM292.83 120.99h1.2v1.2h-1.2zM291.75 101.75h1.2v1.2h-1.2zM299.89 61.45h1.2v1.2h-1.2zM294.44 77.85h1.2v1.2h-1.2zM293.11 109.19h1.2v1.2h-1.2zM292.32 116.71h1.2v1.2h-1.2zM297.27 96.28h1.2v1.2h-1.2zM295.55 81.03h1.2v1.2h-1.2zM291.51 81.42h1.2v1.2h-1.2zM297.84 98.67h1.2v1.2h-1.2zM293.71 112.98h1.2v1.2h-1.2zM298.43 80.53h1.2v1.2h-1.2zM295.8 71.22h1.2v1.2h-1.2zM296.22 59.57h1.2v1.2h-1.2zM295.51 67.92h1.2v1.2h-1.2zM297.48 112.17h1.2v1.2h-1.2zM300.31 98.12h1.2v1.2h-1.2zM298.58 120.82h1.2v1.2h-1.2zM292.02 63.71h1.2v1.2h-1.2zM295.85 82.09h1.2v1.2h-1.2zM293.51 108.73h1.2v1.2h-1.2zM292.32 100.39h1.2v1.2h-1.2zM293.16 63.53h1.2v1.2h-1.2zM293.63 84.29h1.2v1.2h-1.2zM300.04 98.93h1.2v1.2h-1.2z" fill="#7a70e6" opacity="0.75"/>
<path d="M289.47 91.8h1.2v1.2h-1.2zM290.75 82.77h1.2v1.2h-1.2zM288.52 110.86h1.2v1.2h-1.2zM290.55 78.71h1.2v1.2h-1.2zM290.19 82.2h1.2v1.2h-1.2zM290.05 77.97h1.2v1.2h-1.2zM286.96 90.75h1.2v1.2h-1.2zM289.91 103.15h1.2v1.2h-1.2zM290.88 103.97h1.2v1.2h-1.2zM289.05 103.65h1.2v1.2h-1.2zM290.48 118.31h1.2v1.2h-1.2zM286.84 97.55h1.2v1.2h-1.2zM290.98 106.19h1.2v1.2h-1.2zM289.4 114.42h1.2v1.2h-1.2zM291.32 109.64h1.2v1.2h-1.2zM287.35 82.96h1.2v1.2h-1.2zM291.04 109.34h1.2v1.2h-1.2zM289.97 115.52h1.2v1.2h-1.2zM290.87 91.23h1.2v1.2h-1.2zM288.59 86.98h1.2v1.2h-1.2zM289.21 101.57h1.2v1.2h-1.2zM293.1 111.16h1.2v1.2h-1.2zM288.81 96.57h1.2v1.2h-1.2zM289.26 110.9h1.2v1.2h-1.2zM289.48 91.77h1.2v1.2h-1.2zM288.57 98.01h1.2v1.2h-1.2zM291.46 98.61h1.2v1.2h-1.2zM292.5 114.22h1.2v1.2h-1.2zM288.82 82.75h1.2v1.2h-1.2zM287.98 112.48h1.2v1.2h-1.2zM291.41 96.09h1.2v1.2h-1.2zM291.07 72.36h1.2v1.2h-1.2zM290.69 71.99h1.2v1.2h-1.2zM291.35 91.77h1.2v1.2h-1.2zM288.65 87.08h1.2v1.2h-1.2zM289.57 86.85h1.2v1.2h-1.2zM288.05 93.51h1.2v1.2h-1.2zM288.23 105.11h1.2v1.2h-1.2zM290.94 75.31h1.2v1.2h-1.2zM289.15 104.55h1.2v1.2h-1.2zM292.66 78.25h1.2v1.2h-1.2zM289.99 95.89h1.2v1.2h-1.2zM289.45 114.55h1.2v1.2h-1.2zM291.18 108.31h1.2v1.2h-1.2zM292.39 105.96h1.2v1.2h-1.2zM290.42 86.75h1.2v1.2h-1.2zM288.18 85.57h1.2v1.2h-1.2zM290.13 73.06h1.2v1.2h-1.2zM291.68 97.02h1.2v1.2h-1.2zM289.18 90.42h1.2v1.2h-1.2zM288.81 90.72h1.2v1.2h-1.2zM291.22 97.01h1.2v1.2h-1.2zM290.47 115.65h1.2v1.2h-1.2zM288.94 119.56h1.2v1.2h-1.2zM289.28 84.92h1.2v1.2h-1.2zM289.09 105.45h1.2v1.2h-1.2zM290.71 116.66h1.2v1.2h-1.2zM290.12 99.23h1.2v1.2h-1.2zM291.8 116.36h1.2v1.2h-1.2zM290.61 78.11h1.2v1.2h-1.2zM288.29 116.33h1.2v1.2h-1.2zM290.49 99.05h1.2v1.2h-1.2zM291.01 92.95h1.2v1.2h-1.2zM290.27 77.13h1.2v1.2h-1.2zM290.99 74.73h1.2v1.2h-1.2zM289.11 91.39h1.2v1.2h-1.2zM289.12 117.85h1.2v1.2h-1.2zM290.93 81.64h1.2v1.2h-1.2zM288.37 83.23h1.2v1.2h-1.2zM286.95 83.93h1.2v1.2h-1.2zM291.34 102.36h1.2v1.2h-1.2zM289.23 109.75h1.2v1.2h-1.2zM289.75 109.86h1.2v1.2h-1.2zM288.34 109.29h1.2v1.2h-1.2zM288.45 109.82h1.2v1.2h-1.2zM288.69 110.85h1.2v1.2h-1.2zM289.85 116.97h1.2v1.2h-1.2zM290.73 112.89h1.2v1.2h-1.2zM287.28 113.91h1.2v1.2h-1.2zM291.25 114.65h1.2v1.2h-1.2zM288.47 101.94h1.2v1.2h-1.2zM288.48 94.11h1.2v1.2h-1.2zM290.72 91.16h1.2v1.2h-1.2zM290.04 109.9h1.2v1.2h-1.2zM287.81 89.71h1.2v1.2h-1.2zM292.23 91.04h1.2v1.2h-1.2zM288.67 86.9h1.2v1.2h-1.2zM290.07 85.1h1.2v1.2h-1.2zM289.96 78.78h1.2v1.2h-1.2zM291.44 70.11h1.2v1.2h-1.2zM289.05 73.77h1.2v1.2h-1.2zM291.08 85.6h1.2v1.2h-1.2zM288.8 85.88h1.2v1.2h-1.2zM291.65 110.82h1.2v1.2h-1.2zM288.84 92.39h1.2v1.2h-1.2zM289.45 97.8h1.2v1.2h-1.2zM292.83 119.38h1.2v1.2h-1.2zM290.71 114.88h1.2v1.2h-1.2zM290.21 106.63h1.2v1.2h-1.2zM293.02 106.58h1.2v1.2h-1.2zM290.29 89.55h1.2v1.2h-1.2zM288.56 71.9h1.2v1.2h-1.2zM290.73 86.94h1.2v1.2h-1.2zM288.57 105.8h1.2v1.2h-1.2zM291.34 94.57h1.2v1.2h-1.2zM291.2 71.34h1.2v1.2h-1.2zM289.6 118.14h1.2v1.2h-1.2zM289.39 111.26h1.2v1.2h-1.2zM290.19 99.75h1.2v1.2h-1.2zM289.63 70.39h1.2v1.2h-1.2z" fill="#3a5ef0" opacity="1.0"/>
<path d="M289.63 95.9h1.2v1.2h-1.2zM290.82 97.9h1.2v1.2h-1.2zM290.17 75.52h1.2v1.2h-1.2zM290.28 91.22h1.2v1.2h-1.2zM290.09 86.13h1.2v1.2h-1.2zM290.12 94.3h1.2v1.2h-1.2zM290.66 92.77h1.2v1.2h-1.2zM289.81 89.85h1.2v1.2h-1.2zM290.76 80.81h1.2v1.2h-1.2zM289.37 97.45h1.2v1.2h-1.2zM289.59 78.68h1.2v1.2h-1.2zM288.94 75.49h1.2v1.2h-1.2zM289.6 85.82h1.2v1.2h-1.2zM290.11 90.57h1.2v1.2h-1.2zM290.65 93.19h1.2v1.2h-1.2zM289.5 94.79h1.2v1.2h-1.2zM289.84 90.63h1.2v1.2h-1.2zM289.53 78.95h1.2v1.2h-1.2zM289.49 97.38h1.2v1.2h-1.2zM289.09 80.78h1.2v1.2h-1.2zM289.8 83.14h1.2v1.2h-1.2zM288.94 97.71h1.2v1.2h-1.2zM289.95 97.5h1.2v1.2h-1.2zM289.76 81.91h1.2v1.2h-1.2zM289.4 81.23h1.2v1.2h-1.2zM289.28 91.21h1.2v1.2h-1.2zM288.97 77.72h1.2v1.2h-1.2zM290.89 94.21h1.2v1.2h-1.2zM289.08 90.07h1.2v1.2h-1.2zM290.73 95.44h1.2v1.2h-1.2zM290.1 83.59h1.2v1.2h-1.2zM289.68 96.25h1.2v1.2h-1.2zM289.23 94.48h1.2v1.2h-1.2zM290.32 81.16h1.2v1.2h-1.2zM290.75 87.67h1.2v1.2h-1.2zM289.25 82.58h1.2v1.2h-1.2zM289.59 82.46h1.2v1.2h-1.2zM290.36 83.89h1.2v1.2h-1.2zM290.05 94.02h1.2v1.2h-1.2zM290.86 83.03h1.2v1.2h-1.2zM289.56 96.16h1.2v1.2h-1.2zM290.14 91.63h1.2v1.2h-1.2zM289.12 87.67h1.2v1.2h-1.2zM291.03 95.49h1.2v1.2h-1.2zM289.48 95.93h1.2v1.2h-1.2zM288.56 84.09h1.2v1.2h-1.2zM289.68 80.56h1.2v1.2h-1.2zM289.75 90.15h1.2v1.2h-1.2zM290.88 89.8h1.2v1.2h-1.2zM289.67 93.96h1.2v1.2h-1.2zM289.79 86.68h1.2v1.2h-1.2zM290.11 85.96h1.2v1.2h-1.2zM290.59 77.22h1.2v1.2h-1.2zM289.86 97.98h1.2v1.2h-1.2zM290.29 77.84h1.2v1.2h-1.2z" fill="#22a6e6" opacity="1.0"/>
<path d="M288.79 116.5h1.2v1.2h-1.2zM285.82 118.26h1.2v1.2h-1.2zM288.6 101.43h1.2v1.2h-1.2zM288.16 108.58h1.2v1.2h-1.2zM285 110.17h1.2v1.2h-1.2zM286.01 118.47h1.2v1.2h-1.2zM286.78 103.96h1.2v1.2h-1.2zM286.28 111.09h1.2v1.2h-1.2zM285.66 117.09h1.2v1.2h-1.2zM288.71 99.62h1.2v1.2h-1.2zM287.23 101.32h1.2v1.2h-1.2zM288.16 101.35h1.2v1.2h-1.2zM286.92 102.57h1.2v1.2h-1.2zM287.96 109.8h1.2v1.2h-1.2zM286.33 113.68h1.2v1.2h-1.2zM287.49 105.28h1.2v1.2h-1.2zM288.3 118.85h1.2v1.2h-1.2zM287.59 107.17h1.2v1.2h-1.2zM286.73 118.53h1.2v1.2h-1.2zM285.77 120.39h1.2v1.2h-1.2zM287.79 104.13h1.2v1.2h-1.2zM287.99 112.12h1.2v1.2h-1.2zM287.15 105.36h1.2v1.2h-1.2zM286.4 103.61h1.2v1.2h-1.2zM288.38 102.92h1.2v1.2h-1.2zM291.25 108.37h1.2v1.2h-1.2zM287.12 102.24h1.2v1.2h-1.2zM288.04 106.96h1.2v1.2h-1.2zM288.15 101.41h1.2v1.2h-1.2zM283.73 100.7h1.2v1.2h-1.2zM287.59 119.67h1.2v1.2h-1.2zM286.39 114.03h1.2v1.2h-1.2zM289.55 113.09h1.2v1.2h-1.2zM287.07 115.47h1.2v1.2h-1.2zM286.27 116.7h1.2v1.2h-1.2zM287.25 100.99h1.2v1.2h-1.2zM287.65 119.97h1.2v1.2h-1.2zM286.6 115.97h1.2v1.2h-1.2zM287.47 105h1.2v1.2h-1.2zM285.41 115.62h1.2v1.2h-1.2zM287.11 114.32h1.2v1.2h-1.2zM288.76 100.82h1.2v1.2h-1.2zM290.51 104.96h1.2v1.2h-1.2zM288.55 110.5h1.2v1.2h-1.2zM287.84 118.47h1.2v1.2h-1.2zM289.23 114.51h1.2v1.2h-1.2zM289.12 99.55h1.2v1.2h-1.2zM290.05 103.89h1.2v1.2h-1.2zM289.04 118.33h1.2v1.2h-1.2zM287.36 105.2h1.2v1.2h-1.2zM287.86 112.37h1.2v1.2h-1.2zM287.81 106.51h1.2v1.2h-1.2zM287.91 115.4h1.2v1.2h-1.2zM287.73 117.46h1.2v1.2h-1.2zM286.23 121.27h1.2v1.2h-1.2zM284.3 114.16h1.2v1.2h-1.2zM286.56 102.64h1.2v1.2h-1.2zM284.54 102.39h1.2v1.2h-1.2zM287.64 106.29h1.2v1.2h-1.2zM287.56 106.63h1.2v1.2h-1.2zM284.93 116.51h1.2v1.2h-1.2zM288.5 112h1.2v1.2h-1.2zM288.88 102.56h1.2v1.2h-1.2zM287.74 99.36h1.2v1.2h-1.2zM289.99 110.85h1.2v1.2h-1.2zM290.36 101.71h1.2v1.2h-1.2zM285.78 101.6h1.2v1.2h-1.2zM289.15 100.12h1.2v1.2h-1.2zM288.12 114.83h1.2v1.2h-1.2zM288.16 107.45h1.2v1.2h-1.2zM288.88 113.56h1.2v1.2h-1.2zM286.41 110.6h1.2v1.2h-1.2zM286.6 111.45h1.2v1.2h-1.2zM286.22 113.96h1.2v1.2h-1.2zM286.27 119.72h1.2v1.2h-1.2zM287.41 105.15h1.2v1.2h-1.2zM285.36 106.1h1.2v1.2h-1.2zM286 101.68h1.2v1.2h-1.2zM288.3 117.47h1.2v1.2h-1.2zM287.34 115.28h1.2v1.2h-1.2zM288.09 107.23h1.2v1.2h-1.2zM284.75 101.08h1.2v1.2h-1.2zM286.32 110.17h1.2v1.2h-1.2zM286.61 114.93h1.2v1.2h-1.2zM287.57 107.02h1.2v1.2h-1.2zM286.71 101.71h1.2v1.2h-1.2zM288.97 100.96h1.2v1.2h-1.2zM287.49 101.7h1.2v1.2h-1.2zM287.51 112.27h1.2v1.2h-1.2zM287.47 115.4h1.2v1.2h-1.2zM288.64 101.14h1.2v1.2h-1.2zM286.85 103.59h1.2v1.2h-1.2zM289.25 102.63h1.2v1.2h-1.2zM288.17 112.82h1.2v1.2h-1.2zM287.69 113.87h1.2v1.2h-1.2zM287.51 114.42h1.2v1.2h-1.2zM288.35 102.92h1.2v1.2h-1.2zM289.11 101.98h1.2v1.2h-1.2zM288.89 112.99h1.2v1.2h-1.2zM288.14 101.55h1.2v1.2h-1.2zM288.79 112.72h1.2v1.2h-1.2zM287.67 111.08h1.2v1.2h-1.2zM289.39 109.17h1.2v1.2h-1.2zM287.4 114.75h1.2v1.2h-1.2zM284.34 114.88h1.2v1.2h-1.2zM289.46 114.67h1.2v1.2h-1.2zM287.61 114.05h1.2v1.2h-1.2zM285.75 109.75h1.2v1.2h-1.2zM287.12 118.32h1.2v1.2h-1.2zM286.23 103.68h1.2v1.2h-1.2zM290.59 117.05h1.2v1.2h-1.2zM288.24 109.94h1.2v1.2h-1.2zM285.18 106.88h1.2v1.2h-1.2zM288.25 117.85h1.2v1.2h-1.2zM286.88 112.03h1.2v1.2h-1.2zM290.39 109.43h1.2v1.2h-1.2zM285.93 107.88h1.2v1.2h-1.2zM284.21 100.45h1.2v1.2h-1.2zM287.66 104.11h1.2v1.2h-1.2zM286.9 118.23h1.2v1.2h-1.2z" fill="#26c0dc" opacity="1.0"/>
<path d="M288.43 102.34h1.2v1.2h-1.2zM285.09 111.82h1.2v1.2h-1.2zM286.68 107.68h1.2v1.2h-1.2zM287.76 102.59h1.2v1.2h-1.2zM285.88 112.39h1.2v1.2h-1.2zM289.08 112.3h1.2v1.2h-1.2zM285.25 107.42h1.2v1.2h-1.2zM288.11 117.28h1.2v1.2h-1.2zM288.33 109.73h1.2v1.2h-1.2zM287.72 118.69h1.2v1.2h-1.2zM286.9 114.41h1.2v1.2h-1.2zM287.45 107.61h1.2v1.2h-1.2zM286.62 100.82h1.2v1.2h-1.2zM287.91 100.75h1.2v1.2h-1.2zM286.24 114.54h1.2v1.2h-1.2zM286.84 117.02h1.2v1.2h-1.2zM287.9 109.29h1.2v1.2h-1.2zM286.3 111.04h1.2v1.2h-1.2zM286.84 111.79h1.2v1.2h-1.2zM287.35 104.4h1.2v1.2h-1.2zM286.21 105.83h1.2v1.2h-1.2zM288.04 108.64h1.2v1.2h-1.2zM287.44 106.89h1.2v1.2h-1.2zM286.04 109.29h1.2v1.2h-1.2zM287.17 106.46h1.2v1.2h-1.2zM286.7 100.94h1.2v1.2h-1.2zM286.79 102.07h1.2v1.2h-1.2zM287.35 100.34h1.2v1.2h-1.2zM286.73 103.37h1.2v1.2h-1.2zM287.75 117.4h1.2v1.2h-1.2zM286.61 110.97h1.2v1.2h-1.2zM287.97 104.65h1.2v1.2h-1.2zM287.06 113.46h1.2v1.2h-1.2zM287.82 107.9h1.2v1.2h-1.2zM286.61 119.57h1.2v1.2h-1.2zM286.68 114.19h1.2v1.2h-1.2zM286.26 111.84h1.2v1.2h-1.2zM287.45 118.33h1.2v1.2h-1.2zM287.83 110.71h1.2v1.2h-1.2zM288.66 114.21h1.2v1.2h-1.2zM288.23 104.32h1.2v1.2h-1.2zM287.28 113.12h1.2v1.2h-1.2zM286.96 113.41h1.2v1.2h-1.2zM287.53 104.48h1.2v1.2h-1.2zM287.15 108.81h1.2v1.2h-1.2zM288.11 118.73h1.2v1.2h-1.2zM287.77 115.65h1.2v1.2h-1.2zM286.56 108.5h1.2v1.2h-1.2zM286.54 115.87h1.2v1.2h-1.2zM288.1 114.77h1.2v1.2h-1.2zM287.42 107.67h1.2v1.2h-1.2zM286.97 110.81h1.2v1.2h-1.2zM287.97 114.78h1.2v1.2h-1.2zM286.88 108.17h1.2v1.2h-1.2zM286.98 106.98h1.2v1.2h-1.2zM286.67 118.85h1.2v1.2h-1.2zM285.61 113.82h1.2v1.2h-1.2zM287.74 113.33h1.2v1.2h-1.2zM286.36 102.13h1.2v1.2h-1.2zM286.59 118.27h1.2v1.2h-1.2zM286.55 113.06h1.2v1.2h-1.2zM287.6 116.3h1.2v1.2h-1.2zM287.16 106.2h1.2v1.2h-1.2zM287.25 105.23h1.2v1.2h-1.2zM285.76 118.26h1.2v1.2h-1.2zM287.19 104.91h1.2v1.2h-1.2zM286.1 106.78h1.2v1.2h-1.2zM287.3 115.58h1.2v1.2h-1.2zM287.55 101.7h1.2v1.2h-1.2zM287.07 112.14h1.2v1.2h-1.2zM288.77 104.33h1.2v1.2h-1.2zM287.42 118.08h1.2v1.2h-1.2zM287.58 111.89h1.2v1.2h-1.2zM287.26 108.96h1.2v1.2h-1.2zM287.12 103.51h1.2v1.2h-1.2zM287.98 103.36h1.2v1.2h-1.2zM287.99 109.45h1.2v1.2h-1.2zM286.04 116.9h1.2v1.2h-1.2zM287.92 111.31h1.2v1.2h-1.2zM287.5 112.06h1.2v1.2h-1.2zM288.02 100.9h1.2v1.2h-1.2zM287.55 106.52h1.2v1.2h-1.2zM286.19 111.02h1.2v1.2h-1.2zM286.23 113.04h1.2v1.2h-1.2zM288.6 105.23h1.2v1.2h-1.2zM287.22 117.94h1.2v1.2h-1.2zM286.18 104.48h1.2v1.2h-1.2zM287.46 107.31h1.2v1.2h-1.2zM286.86 111.12h1.2v1.2h-1.2zM285.83 105.09h1.2v1.2h-1.2zM285.4 111.01h1.2v1.2h-1.2zM285.84 117.49h1.2v1.2h-1.2zM287.33 111.9h1.2v1.2h-1.2zM286.98 118.49h1.2v1.2h-1.2zM286.84 117.48h1.2v1.2h-1.2zM287.35 111.08h1.2v1.2h-1.2zM287.7 103.74h1.2v1.2h-1.2zM285.48 115.33h1.2v1.2h-1.2zM286.92 109.47h1.2v1.2h-1.2zM286.67 102.1h1.2v1.2h-1.2zM286.32 103.82h1.2v1.2h-1.2zM286.86 101.9h1.2v1.2h-1.2zM287.11 105.79h1.2v1.2h-1.2zM286.98 107.77h1.2v1.2h-1.2zM286.08 108.78h1.2v1.2h-1.2zM286.82 108.43h1.2v1.2h-1.2zM288.65 110.43h1.2v1.2h-1.2zM286.32 112.58h1.2v1.2h-1.2zM285.81 114.68h1.2v1.2h-1.2zM287.23 117.49h1.2v1.2h-1.2zM287.56 113.17h1.2v1.2h-1.2zM287.58 105h1.2v1.2h-1.2zM286.33 110.38h1.2v1.2h-1.2zM287.8 115.83h1.2v1.2h-1.2zM286.66 103.85h1.2v1.2h-1.2zM286.16 119.14h1.2v1.2h-1.2zM286.82 101.56h1.2v1.2h-1.2zM287.11 106.18h1.2v1.2h-1.2zM287.7 108.26h1.2v1.2h-1.2zM287.59 111.62h1.2v1.2h-1.2zM287.23 103.93h1.2v1.2h-1.2zM287.7 119.21h1.2v1.2h-1.2zM287.07 119.7h1.2v1.2h-1.2zM287.83 110.11h1.2v1.2h-1.2zM286.04 113.95h1.2v1.2h-1.2zM285.94 111.79h1.2v1.2h-1.2zM287.74 109.05h1.2v1.2h-1.2zM285.97 118.9h1.2v1.2h-1.2zM287.07 101.27h1.2v1.2h-1.2zM287.13 106.56h1.2v1.2h-1.2z" fill="#3ad648" opacity="1.0"/>
<path d="M287.38 119.39h1v1h-1zM287.07 110.34h1v1h-1zM286.64 110.69h1v1h-1zM286.8 110.55h1v1h-1zM287.51 108.67h1v1h-1zM287.38 113.17h1v1h-1zM287.84 111.58h1v1h-1zM287.22 118.15h1v1h-1zM287.55 113.93h1v1h-1zM287.73 113.65h1v1h-1zM287.6 110.61h1v1h-1zM286.96 105.84h1v1h-1zM287.13 111.14h1v1h-1zM287.25 108.1h1v1h-1zM286.81 115.31h1v1h-1zM287.39 111.38h1v1h-1zM287.61 118.16h1v1h-1zM287.01 114.44h1v1h-1z" fill="#a8e030" opacity="1.0"/>
<path d="M235.1 101.4h1.2v1.2h-1.2zM241.6 117.4h1.2v1.2h-1.2zM256.9 94.4h1.2v1.2h-1.2zM314.4 102.4h1.2v1.2h-1.2zM317.4 63.4h1.2v1.2h-1.2z" fill="#8a8ae8" opacity="1.0"/>
<rect x="278.5" y="63" width="15" height="35.5" fill="none" stroke="#d65ad6" stroke-width="1.0"/>
<path d="M442.81 114.38h1.2v1.2h-1.2zM446.36 106.72h1.2v1.2h-1.2zM460.72 71.53h1.2v1.2h-1.2zM443.18 110.37h1.2v1.2h-1.2zM457.32 88.66h1.2v1.2h-1.2zM450.99 101.23h1.2v1.2h-1.2zM448.09 105.19h1.2v1.2h-1.2zM455.88 92.19h1.2v1.2h-1.2zM451.92 99.62h1.2v1.2h-1.2zM459.4 83.97h1.2v1.2h-1.2zM448.64 100.92h1.2v1.2h-1.2zM460.66 74.38h1.2v1.2h-1.2zM459.4 77.97h1.2v1.2h-1.2zM450.45 99.55h1.2v1.2h-1.2zM461.37 71.29h1.2v1.2h-1.2zM459.1 87.05h1.2v1.2h-1.2zM456.15 85.3h1.2v1.2h-1.2zM457.41 82.52h1.2v1.2h-1.2zM460.52 73.17h1.2v1.2h-1.2zM450.61 102.43h1.2v1.2h-1.2zM459.78 83.3h1.2v1.2h-1.2zM448.05 109.27h1.2v1.2h-1.2zM454.79 97.1h1.2v1.2h-1.2zM455.23 93.58h1.2v1.2h-1.2zM440.99 118.66h1.2v1.2h-1.2zM442.05 113.12h1.2v1.2h-1.2zM453.97 92.02h1.2v1.2h-1.2zM454.25 95.29h1.2v1.2h-1.2zM460.99 74.3h1.2v1.2h-1.2zM462.45 65.6h1.2v1.2h-1.2zM446.55 107.97h1.2v1.2h-1.2zM447.33 105.14h1.2v1.2h-1.2zM460.23 80.28h1.2v1.2h-1.2zM440.57 119.84h1.2v1.2h-1.2zM452.91 96.73h1.2v1.2h-1.2zM460.72 76.49h1.2v1.2h-1.2zM451.76 97.23h1.2v1.2h-1.2zM458.94 76.31h1.2v1.2h-1.2zM462.07 69.38h1.2v1.2h-1.2zM449.07 104.63h1.2v1.2h-1.2zM440.36 120.58h1.2v1.2h-1.2zM453.07 96.26h1.2v1.2h-1.2zM448.46 110.49h1.2v1.2h-1.2zM458.5 80.47h1.2v1.2h-1.2zM454.63 92.91h1.2v1.2h-1.2zM442.45 114.46h1.2v1.2h-1.2zM458.69 78.57h1.2v1.2h-1.2zM456 90.87h1.2v1.2h-1.2zM446.03 112.91h1.2v1.2h-1.2zM445.24 112.2h1.2v1.2h-1.2zM456.84 90.17h1.2v1.2h-1.2zM462.36 67.96h1.2v1.2h-1.2zM440.13 119.91h1.2v1.2h-1.2zM460.23 83.49h1.2v1.2h-1.2zM460.43 73.97h1.2v1.2h-1.2zM451.59 97.89h1.2v1.2h-1.2zM459.16 83.97h1.2v1.2h-1.2zM441.37 119.22h1.2v1.2h-1.2zM441.2 118.97h1.2v1.2h-1.2zM452.87 98.68h1.2v1.2h-1.2zM457.93 75.77h1.2v1.2h-1.2zM459.66 86.63h1.2v1.2h-1.2zM452.03 104.53h1.2v1.2h-1.2zM442.35 116.39h1.2v1.2h-1.2zM443.98 112.03h1.2v1.2h-1.2zM442.87 111.45h1.2v1.2h-1.2zM456.19 89.9h1.2v1.2h-1.2zM460.58 67.89h1.2v1.2h-1.2zM441.5 117.95h1.2v1.2h-1.2zM451.5 98.69h1.2v1.2h-1.2zM447.23 110h1.2v1.2h-1.2zM446.22 109.24h1.2v1.2h-1.2zM459.01 69.07h1.2v1.2h-1.2zM443.6 115.66h1.2v1.2h-1.2zM460.8 69.68h1.2v1.2h-1.2zM443.31 111.8h1.2v1.2h-1.2zM460.01 74.18h1.2v1.2h-1.2zM459.43 79.15h1.2v1.2h-1.2zM443.55 114.34h1.2v1.2h-1.2zM460.3 66.17h1.2v1.2h-1.2zM462.56 72.83h1.2v1.2h-1.2zM458.27 90.75h1.2v1.2h-1.2zM462.72 67.14h1.2v1.2h-1.2zM452.7 98.71h1.2v1.2h-1.2zM441.57 114.78h1.2v1.2h-1.2zM461.26 62.04h1.2v1.2h-1.2zM459.75 86.14h1.2v1.2h-1.2zM448.37 107.79h1.2v1.2h-1.2zM443.99 113.91h1.2v1.2h-1.2zM446.22 116.12h1.2v1.2h-1.2zM457.02 90.13h1.2v1.2h-1.2zM448.29 105.03h1.2v1.2h-1.2zM462.69 72.77h1.2v1.2h-1.2zM459.96 69.73h1.2v1.2h-1.2zM461.13 63.09h1.2v1.2h-1.2zM453.69 96.74h1.2v1.2h-1.2zM459.05 79.83h1.2v1.2h-1.2zM462.22 71.31h1.2v1.2h-1.2zM444.65 108.69h1.2v1.2h-1.2zM457.29 94.21h1.2v1.2h-1.2zM448.34 107.87h1.2v1.2h-1.2zM462.65 69h1.2v1.2h-1.2zM451.44 96.33h1.2v1.2h-1.2zM463.38 64.6h1.2v1.2h-1.2zM451.76 101.66h1.2v1.2h-1.2zM458.93 76.44h1.2v1.2h-1.2zM462.81 65.05h1.2v1.2h-1.2zM462.62 69.26h1.2v1.2h-1.2zM459.94 81.88h1.2v1.2h-1.2zM460.77 85.49h1.2v1.2h-1.2zM461.52 81h1.2v1.2h-1.2zM447.74 103.73h1.2v1.2h-1.2zM449.15 103.07h1.2v1.2h-1.2zM461.36 63.95h1.2v1.2h-1.2zM462.29 67.31h1.2v1.2h-1.2zM461.61 61.92h1.2v1.2h-1.2zM454.75 96.66h1.2v1.2h-1.2zM453.92 96.18h1.2v1.2h-1.2zM461.01 79.62h1.2v1.2h-1.2zM456.35 90.08h1.2v1.2h-1.2zM443.36 108.15h1.2v1.2h-1.2zM461.61 82.7h1.2v1.2h-1.2zM441.96 116.02h1.2v1.2h-1.2zM462.99 72.51h1.2v1.2h-1.2zM461.09 75.01h1.2v1.2h-1.2zM462.78 68.58h1.2v1.2h-1.2zM463.15 76.21h1.2v1.2h-1.2zM462.78 64.67h1.2v1.2h-1.2zM463.7 68.51h1.2v1.2h-1.2zM454.14 89.1h1.2v1.2h-1.2zM445.47 109.79h1.2v1.2h-1.2zM459.5 80.65h1.2v1.2h-1.2zM459.94 78.32h1.2v1.2h-1.2zM455.27 92.46h1.2v1.2h-1.2zM444.84 111.09h1.2v1.2h-1.2zM444.02 115.76h1.2v1.2h-1.2zM453.53 91.72h1.2v1.2h-1.2zM459.48 84.05h1.2v1.2h-1.2zM461.37 65.09h1.2v1.2h-1.2zM448.51 105.49h1.2v1.2h-1.2zM453.2 96.53h1.2v1.2h-1.2zM455.7 93.18h1.2v1.2h-1.2zM442.41 114.9h1.2v1.2h-1.2zM442.42 116.78h1.2v1.2h-1.2zM457.31 93.14h1.2v1.2h-1.2zM453.75 94.32h1.2v1.2h-1.2zM459.64 81.95h1.2v1.2h-1.2zM447.25 101.64h1.2v1.2h-1.2zM461.03 74.6h1.2v1.2h-1.2zM449.79 103.53h1.2v1.2h-1.2zM455.2 90.91h1.2v1.2h-1.2zM462.37 73.86h1.2v1.2h-1.2zM440.99 112.14h1.2v1.2h-1.2zM458.21 76.99h1.2v1.2h-1.2zM459.02 72.96h1.2v1.2h-1.2zM459.67 76.69h1.2v1.2h-1.2zM450.83 100.76h1.2v1.2h-1.2zM459.83 78.06h1.2v1.2h-1.2zM459.75 80.46h1.2v1.2h-1.2zM461.25 77.74h1.2v1.2h-1.2zM449.62 101.21h1.2v1.2h-1.2zM449.45 101.92h1.2v1.2h-1.2zM459.53 72.22h1.2v1.2h-1.2zM447.12 111.97h1.2v1.2h-1.2zM445.3 103.82h1.2v1.2h-1.2zM450.58 98.84h1.2v1.2h-1.2zM461.82 78.75h1.2v1.2h-1.2zM457.7 88.35h1.2v1.2h-1.2zM460.62 68.42h1.2v1.2h-1.2zM460.49 76.84h1.2v1.2h-1.2zM442.52 114.49h1.2v1.2h-1.2zM462.88 70.05h1.2v1.2h-1.2zM458.63 78.29h1.2v1.2h-1.2zM461.39 77.91h1.2v1.2h-1.2zM461.4 72.03h1.2v1.2h-1.2zM454.12 96.73h1.2v1.2h-1.2zM443.23 115.73h1.2v1.2h-1.2zM458.83 84.09h1.2v1.2h-1.2zM444.95 107h1.2v1.2h-1.2zM459.18 85.73h1.2v1.2h-1.2zM461.49 81.77h1.2v1.2h-1.2zM462.33 71.57h1.2v1.2h-1.2zM459.4 84.63h1.2v1.2h-1.2zM459.52 90.56h1.2v1.2h-1.2zM452.54 96.22h1.2v1.2h-1.2zM462.68 69.83h1.2v1.2h-1.2zM443.64 111.52h1.2v1.2h-1.2zM448.5 105.36h1.2v1.2h-1.2zM460.1 79.47h1.2v1.2h-1.2zM461.25 82.92h1.2v1.2h-1.2zM458.47 80.8h1.2v1.2h-1.2zM442.48 113.27h1.2v1.2h-1.2zM439.6 117.11h1.2v1.2h-1.2zM460.39 81.32h1.2v1.2h-1.2zM460.47 72.61h1.2v1.2h-1.2zM445.99 111.73h1.2v1.2h-1.2zM456.59 85.32h1.2v1.2h-1.2zM445.8 108.17h1.2v1.2h-1.2zM448.2 109.12h1.2v1.2h-1.2zM461.47 68.45h1.2v1.2h-1.2zM451.99 98.27h1.2v1.2h-1.2zM461.91 73.09h1.2v1.2h-1.2zM458.68 84.57h1.2v1.2h-1.2zM443.71 108.13h1.2v1.2h-1.2zM460.4 84.9h1.2v1.2h-1.2zM447.97 104.81h1.2v1.2h-1.2zM441.58 117.45h1.2v1.2h-1.2zM444.23 107.25h1.2v1.2h-1.2zM451.92 94.15h1.2v1.2h-1.2zM459.47 64.5h1.2v1.2h-1.2zM458.22 82.36h1.2v1.2h-1.2zM449.85 103.52h1.2v1.2h-1.2zM449.85 103.52h1.2v1.2h-1.2zM460 78.64h1.2v1.2h-1.2zM456.81 90.28h1.2v1.2h-1.2zM456.1 92.1h1.2v1.2h-1.2zM442.58 112.8h1.2v1.2h-1.2zM460.5 77.69h1.2v1.2h-1.2zM453.47 95.92h1.2v1.2h-1.2zM454.26 90.15h1.2v1.2h-1.2zM439.89 119.48h1.2v1.2h-1.2zM461.52 79.78h1.2v1.2h-1.2zM440.09 119.21h1.2v1.2h-1.2zM450.31 99.89h1.2v1.2h-1.2zM455.48 91.28h1.2v1.2h-1.2zM460.15 73.95h1.2v1.2h-1.2zM448.91 107.12h1.2v1.2h-1.2zM450.21 101.58h1.2v1.2h-1.2zM446.68 105.1h1.2v1.2h-1.2zM452.13 90.78h1.2v1.2h-1.2zM459.45 76.74h1.2v1.2h-1.2zM443.97 107.88h1.2v1.2h-1.2zM456.56 86.09h1.2v1.2h-1.2zM457.54 93.91h1.2v1.2h-1.2zM446.91 109.61h1.2v1.2h-1.2zM455.86 86.23h1.2v1.2h-1.2zM441.26 118.03h1.2v1.2h-1.2zM440.87 119.9h1.2v1.2h-1.2zM460.98 65.43h1.2v1.2h-1.2zM453.36 96.94h1.2v1.2h-1.2zM437.99 119.49h1.2v1.2h-1.2zM451.77 94.87h1.2v1.2h-1.2zM437.66 121.66h1.2v1.2h-1.2zM445.92 107.6h1.2v1.2h-1.2zM460.67 81.18h1.2v1.2h-1.2zM445.41 106.32h1.2v1.2h-1.2zM447.06 103.1h1.2v1.2h-1.2zM457.82 83.1h1.2v1.2h-1.2zM462.56 65.72h1.2v1.2h-1.2zM459.52 79.8h1.2v1.2h-1.2zM448.17 107.41h1.2v1.2h-1.2zM459.42 77.16h1.2v1.2h-1.2zM458.63 76.57h1.2v1.2h-1.2zM444.31 111.03h1.2v1.2h-1.2zM459.06 83.29h1.2v1.2h-1.2zM444.1 110.07h1.2v1.2h-1.2zM460.36 80.37h1.2v1.2h-1.2zM446.69 113.1h1.2v1.2h-1.2zM440.88 115.98h1.2v1.2h-1.2zM444.07 111.98h1.2v1.2h-1.2zM463.4 70.5h1.2v1.2h-1.2zM452.12 98.54h1.2v1.2h-1.2zM458.63 78.92h1.2v1.2h-1.2zM449.92 99.13h1.2v1.2h-1.2zM448.38 105.83h1.2v1.2h-1.2zM441.44 119.15h1.2v1.2h-1.2zM458.84 83.68h1.2v1.2h-1.2zM451.63 99.78h1.2v1.2h-1.2zM461.52 79.29h1.2v1.2h-1.2zM441.97 120.19h1.2v1.2h-1.2zM459.64 70.54h1.2v1.2h-1.2zM461.65 68.82h1.2v1.2h-1.2zM451.86 98.54h1.2v1.2h-1.2zM457.01 91.66h1.2v1.2h-1.2zM443.38 113.55h1.2v1.2h-1.2zM442.92 111.63h1.2v1.2h-1.2zM441.6 115.66h1.2v1.2h-1.2zM459.07 69.22h1.2v1.2h-1.2zM458.6 84.76h1.2v1.2h-1.2zM439.76 117.02h1.2v1.2h-1.2zM445.31 109.74h1.2v1.2h-1.2zM458.97 76.25h1.2v1.2h-1.2zM439.9 117.45h1.2v1.2h-1.2zM446.3 106.61h1.2v1.2h-1.2zM451.54 97.56h1.2v1.2h-1.2zM444.09 113.47h1.2v1.2h-1.2zM448.79 101.78h1.2v1.2h-1.2zM458.96 86.81h1.2v1.2h-1.2zM441.63 111.83h1.2v1.2h-1.2zM452.16 96.36h1.2v1.2h-1.2zM459.6 68.75h1.2v1.2h-1.2zM447.64 105.52h1.2v1.2h-1.2zM441.38 116.67h1.2v1.2h-1.2zM455.52 92.95h1.2v1.2h-1.2zM440.98 116.65h1.2v1.2h-1.2zM462.12 64.19h1.2v1.2h-1.2zM451.6 101.51h1.2v1.2h-1.2zM440.79 117.51h1.2v1.2h-1.2zM447.37 106.91h1.2v1.2h-1.2zM443.28 113.84h1.2v1.2h-1.2zM461.77 66.46h1.2v1.2h-1.2zM446.87 107.45h1.2v1.2h-1.2zM452.81 98.12h1.2v1.2h-1.2zM456.82 86.83h1.2v1.2h-1.2zM459.83 81.5h1.2v1.2h-1.2zM445.93 110.84h1.2v1.2h-1.2zM462.24 72.44h1.2v1.2h-1.2zM461.91 63.17h1.2v1.2h-1.2zM442.79 111.28h1.2v1.2h-1.2zM441.86 113.69h1.2v1.2h-1.2zM459.85 77.22h1.2v1.2h-1.2zM444.2 114.82h1.2v1.2h-1.2zM440.98 117.55h1.2v1.2h-1.2zM443.81 110.94h1.2v1.2h-1.2zM455.54 92.71h1.2v1.2h-1.2zM460.26 74.17h1.2v1.2h-1.2zM462.13 64.34h1.2v1.2h-1.2zM460.9 84.84h1.2v1.2h-1.2zM456 95.04h1.2v1.2h-1.2zM461.92 72.24h1.2v1.2h-1.2zM461.85 70.81h1.2v1.2h-1.2zM458.26 82.22h1.2v1.2h-1.2zM461.68 72.31h1.2v1.2h-1.2zM459.77 80.24h1.2v1.2h-1.2zM460.61 76.6h1.2v1.2h-1.2zM443.14 111.22h1.2v1.2h-1.2zM450.57 99.82h1.2v1.2h-1.2zM442.33 115.71h1.2v1.2h-1.2zM461.4 71.11h1.2v1.2h-1.2zM463.02 72.68h1.2v1.2h-1.2zM455.52 92.85h1.2v1.2h-1.2zM450.01 97.91h1.2v1.2h-1.2zM442.66 112.93h1.2v1.2h-1.2zM452.98 93.08h1.2v1.2h-1.2zM447.87 104.95h1.2v1.2h-1.2zM446.79 108.25h1.2v1.2h-1.2zM449.86 102.73h1.2v1.2h-1.2zM458.74 81.17h1.2v1.2h-1.2zM459.85 83.41h1.2v1.2h-1.2zM448.51 103.64h1.2v1.2h-1.2zM442.86 110.11h1.2v1.2h-1.2zM449.34 99.45h1.2v1.2h-1.2zM453.38 92.96h1.2v1.2h-1.2zM456.37 93.61h1.2v1.2h-1.2zM449.51 99.86h1.2v1.2h-1.2zM461.92 79.02h1.2v1.2h-1.2zM442.57 115.89h1.2v1.2h-1.2zM442.14 116.1h1.2v1.2h-1.2zM461.8 67.98h1.2v1.2h-1.2zM459.15 78.18h1.2v1.2h-1.2zM461.02 72.2h1.2v1.2h-1.2zM451.71 99.83h1.2v1.2h-1.2zM447.77 105.76h1.2v1.2h-1.2zM458.79 88.71h1.2v1.2h-1.2zM464.19 61.36h1.2v1.2h-1.2zM455.32 94.24h1.2v1.2h-1.2zM458.64 85.91h1.2v1.2h-1.2zM446.86 108.64h1.2v1.2h-1.2zM460.15 80.74h1.2v1.2h-1.2zM439.71 118.43h1.2v1.2h-1.2zM455.56 93.16h1.2v1.2h-1.2zM459.72 82.85h1.2v1.2h-1.2zM460.75 67.56h1.2v1.2h-1.2zM463.84 71.49h1.2v1.2h-1.2zM438.68 119.98h1.2v1.2h-1.2zM450.33 100h1.2v1.2h-1.2zM461.56 73.56h1.2v1.2h-1.2zM453.19 89.26h1.2v1.2h-1.2zM440.25 116.78h1.2v1.2h-1.2zM443.84 110.15h1.2v1.2h-1.2zM461.16 62.97h1.2v1.2h-1.2zM460.98 71.49h1.2v1.2h-1.2zM456.21 93.21h1.2v1.2h-1.2zM449.16 107.19h1.2v1.2h-1.2zM462.07 71.6h1.2v1.2h-1.2zM462.84 72.26h1.2v1.2h-1.2zM455.05 95.27h1.2v1.2h-1.2zM458.89 82.3h1.2v1.2h-1.2zM460.43 84.97h1.2v1.2h-1.2zM461.46 66.39h1.2v1.2h-1.2zM452.35 95.46h1.2v1.2h-1.2zM444.85 113.7h1.2v1.2h-1.2zM462.18 72.43h1.2v1.2h-1.2zM461.11 73.76h1.2v1.2h-1.2zM463.33 66.44h1.2v1.2h-1.2zM443.41 114.92h1.2v1.2h-1.2zM439.13 115.23h1.2v1.2h-1.2zM453.94 94.19h1.2v1.2h-1.2zM459.29 73.95h1.2v1.2h-1.2zM443.51 113.76h1.2v1.2h-1.2zM454.9 91.2h1.2v1.2h-1.2zM450.59 103.04h1.2v1.2h-1.2zM460.82 79.14h1.2v1.2h-1.2zM447.45 103.74h1.2v1.2h-1.2zM439.58 120.61h1.2v1.2h-1.2zM459.43 72.3h1.2v1.2h-1.2zM451.9 97.4h1.2v1.2h-1.2zM452.93 99.37h1.2v1.2h-1.2zM447.56 104.14h1.2v1.2h-1.2zM450.39 95.93h1.2v1.2h-1.2zM442.14 115.16h1.2v1.2h-1.2zM444.1 112.87h1.2v1.2h-1.2zM456.12 91.97h1.2v1.2h-1.2zM447.86 108.06h1.2v1.2h-1.2zM460.37 65.98h1.2v1.2h-1.2zM461.31 76.97h1.2v1.2h-1.2zM452.56 95.6h1.2v1.2h-1.2zM449.24 103.42h1.2v1.2h-1.2zM460.3 78.78h1.2v1.2h-1.2zM452.39 98.45h1.2v1.2h-1.2zM441.5 115.94h1.2v1.2h-1.2zM455.08 93.54h1.2v1.2h-1.2zM452.4 94.8h1.2v1.2h-1.2zM441.67 112.42h1.2v1.2h-1.2zM457.33 90.15h1.2v1.2h-1.2zM454.61 91.6h1.2v1.2h-1.2zM451.3 95.48h1.2v1.2h-1.2zM446.31 106.06h1.2v1.2h-1.2zM449.49 101.9h1.2v1.2h-1.2zM442.85 117.92h1.2v1.2h-1.2z" fill="#4258e6" opacity="0.9"/>
<path d="M457.19 115.82h1.2v1.2h-1.2zM449.28 120.43h1.2v1.2h-1.2zM453.34 117.59h1.2v1.2h-1.2zM460.26 108.52h1.2v1.2h-1.2zM454.36 107.14h1.2v1.2h-1.2zM455.11 102.82h1.2v1.2h-1.2zM462.29 118.32h1.2v1.2h-1.2zM456.44 107.8h1.2v1.2h-1.2zM463.82 111.04h1.2v1.2h-1.2zM461.54 109.94h1.2v1.2h-1.2zM459.38 110.21h1.2v1.2h-1.2zM459.94 102.52h1.2v1.2h-1.2zM462.57 118.05h1.2v1.2h-1.2zM462.73 106.58h1.2v1.2h-1.2zM455.36 105.13h1.2v1.2h-1.2zM459.07 109.35h1.2v1.2h-1.2zM453.59 106.67h1.2v1.2h-1.2zM456.73 101.93h1.2v1.2h-1.2zM451.13 112.47h1.2v1.2h-1.2zM451.06 116.86h1.2v1.2h-1.2zM463.34 112.95h1.2v1.2h-1.2zM453.09 108.61h1.2v1.2h-1.2zM452.26 110.81h1.2v1.2h-1.2zM456.32 107.81h1.2v1.2h-1.2zM461.56 118.5h1.2v1.2h-1.2zM455.46 118.75h1.2v1.2h-1.2zM460.66 115.52h1.2v1.2h-1.2zM451.63 120.59h1.2v1.2h-1.2zM461.53 103.05h1.2v1.2h-1.2zM462.96 117.48h1.2v1.2h-1.2zM458.38 117.03h1.2v1.2h-1.2zM458.93 106.1h1.2v1.2h-1.2zM455.61 118.02h1.2v1.2h-1.2zM458.22 115.1h1.2v1.2h-1.2zM462.11 117.91h1.2v1.2h-1.2zM451.7 116.85h1.2v1.2h-1.2zM453.88 107.55h1.2v1.2h-1.2zM455.45 103.28h1.2v1.2h-1.2zM459.09 109.59h1.2v1.2h-1.2zM463.12 102.21h1.2v1.2h-1.2z" fill="#5058e4" opacity="0.8"/>
<path d="M459.42 100.16h1.2v1.2h-1.2zM460.63 89.97h1.2v1.2h-1.2zM456.01 111.6h1.2v1.2h-1.2zM457.62 104.1h1.2v1.2h-1.2zM459.91 95.71h1.2v1.2h-1.2zM458.32 98.28h1.2v1.2h-1.2zM454.46 110.17h1.2v1.2h-1.2zM453.88 117.16h1.2v1.2h-1.2zM453.67 119.67h1.2v1.2h-1.2zM455.12 120.12h1.2v1.2h-1.2zM461.02 95.82h1.2v1.2h-1.2zM455.11 114.93h1.2v1.2h-1.2zM457.76 95.73h1.2v1.2h-1.2zM456.78 99.47h1.2v1.2h-1.2zM459.73 91.31h1.2v1.2h-1.2zM461.47 92.1h1.2v1.2h-1.2zM454.93 115.08h1.2v1.2h-1.2zM456.7 105.4h1.2v1.2h-1.2zM458.65 92.81h1.2v1.2h-1.2zM456.92 110.01h1.2v1.2h-1.2zM458.87 95.75h1.2v1.2h-1.2zM454.27 116.48h1.2v1.2h-1.2zM455.42 111.12h1.2v1.2h-1.2zM456.84 113.95h1.2v1.2h-1.2zM457.17 101.14h1.2v1.2h-1.2zM461.26 95.71h1.2v1.2h-1.2zM458.06 106.83h1.2v1.2h-1.2zM457.51 100.99h1.2v1.2h-1.2zM457.34 106.45h1.2v1.2h-1.2zM458.14 97.8h1.2v1.2h-1.2zM457.62 95.84h1.2v1.2h-1.2zM457.2 102.35h1.2v1.2h-1.2zM456.84 97.77h1.2v1.2h-1.2zM455.06 114.28h1.2v1.2h-1.2zM456.2 107.22h1.2v1.2h-1.2zM457.98 102.47h1.2v1.2h-1.2zM461.03 91.3h1.2v1.2h-1.2zM452.63 105.65h1.2v1.2h-1.2zM456.96 107.31h1.2v1.2h-1.2zM456.49 95.39h1.2v1.2h-1.2zM453.89 118.68h1.2v1.2h-1.2zM455.12 105.64h1.2v1.2h-1.2zM453.86 119.07h1.2v1.2h-1.2zM461.67 92.1h1.2v1.2h-1.2zM451.77 117.44h1.2v1.2h-1.2zM458.21 100.1h1.2v1.2h-1.2zM457.79 99.44h1.2v1.2h-1.2zM455.86 98.94h1.2v1.2h-1.2zM456.86 108.45h1.2v1.2h-1.2zM453.72 118.26h1.2v1.2h-1.2zM457.15 99.29h1.2v1.2h-1.2zM457 98.01h1.2v1.2h-1.2zM463.8 91.13h1.2v1.2h-1.2zM456.68 102.9h1.2v1.2h-1.2zM456.3 97.13h1.2v1.2h-1.2zM452.23 121.8h1.2v1.2h-1.2zM453.09 119.58h1.2v1.2h-1.2zM453.17 118.93h1.2v1.2h-1.2zM456.69 103.67h1.2v1.2h-1.2zM457.86 94.91h1.2v1.2h-1.2zM458.14 101.88h1.2v1.2h-1.2zM455.62 106.64h1.2v1.2h-1.2zM457.62 94.01h1.2v1.2h-1.2zM457.34 97.83h1.2v1.2h-1.2zM453.91 114.21h1.2v1.2h-1.2zM458.91 100.44h1.2v1.2h-1.2zM460.91 89.99h1.2v1.2h-1.2zM454.93 110.89h1.2v1.2h-1.2zM459.91 91.12h1.2v1.2h-1.2zM456.92 106.68h1.2v1.2h-1.2zM457.3 115.8h1.2v1.2h-1.2zM457.6 98.86h1.2v1.2h-1.2zM457.38 103.76h1.2v1.2h-1.2zM458.68 99.66h1.2v1.2h-1.2zM456.59 100.47h1.2v1.2h-1.2zM455.25 111.93h1.2v1.2h-1.2zM453.91 118.45h1.2v1.2h-1.2zM454.23 112.25h1.2v1.2h-1.2zM454.45 120.41h1.2v1.2h-1.2zM459.18 100.51h1.2v1.2h-1.2zM456.25 114.32h1.2v1.2h-1.2zM456.96 102.78h1.2v1.2h-1.2zM458.76 96.6h1.2v1.2h-1.2zM460.78 99.92h1.2v1.2h-1.2zM454.17 110.62h1.2v1.2h-1.2zM460.27 90.49h1.2v1.2h-1.2zM457.25 108.8h1.2v1.2h-1.2zM457.04 103.92h1.2v1.2h-1.2zM454.58 118.17h1.2v1.2h-1.2zM454.02 119.6h1.2v1.2h-1.2zM455.99 112.78h1.2v1.2h-1.2zM459.02 102.41h1.2v1.2h-1.2zM457.2 100.97h1.2v1.2h-1.2zM456.85 103.68h1.2v1.2h-1.2zM456.02 108.26h1.2v1.2h-1.2zM453.1 118.29h1.2v1.2h-1.2zM457.55 101.78h1.2v1.2h-1.2zM454.9 105.3h1.2v1.2h-1.2zM457.14 105.97h1.2v1.2h-1.2zM459.4 102.96h1.2v1.2h-1.2zM456.68 115.78h1.2v1.2h-1.2zM461.11 93.29h1.2v1.2h-1.2zM458.35 91.6h1.2v1.2h-1.2zM458.78 105.23h1.2v1.2h-1.2zM457.21 97.28h1.2v1.2h-1.2zM459.65 91.75h1.2v1.2h-1.2zM459.86 100.81h1.2v1.2h-1.2zM458.08 92.81h1.2v1.2h-1.2zM455.26 117.51h1.2v1.2h-1.2zM460.56 89.71h1.2v1.2h-1.2zM453.66 118.71h1.2v1.2h-1.2zM457.34 97.65h1.2v1.2h-1.2zM460.59 89.48h1.2v1.2h-1.2zM455.45 107.1h1.2v1.2h-1.2zM460.1 95.74h1.2v1.2h-1.2zM458.61 103.05h1.2v1.2h-1.2zM454.52 107.05h1.2v1.2h-1.2zM453.27 116.37h1.2v1.2h-1.2zM458.07 97.66h1.2v1.2h-1.2zM455.51 103.97h1.2v1.2h-1.2zM455.6 103.23h1.2v1.2h-1.2zM453.85 117.73h1.2v1.2h-1.2zM455.48 109.45h1.2v1.2h-1.2zM454.46 105h1.2v1.2h-1.2zM454.16 114.02h1.2v1.2h-1.2zM454.36 119.01h1.2v1.2h-1.2zM457.37 95.81h1.2v1.2h-1.2zM456.41 100.42h1.2v1.2h-1.2zM458.75 106.22h1.2v1.2h-1.2zM456.07 114.08h1.2v1.2h-1.2zM455.09 101.85h1.2v1.2h-1.2zM457.81 93.12h1.2v1.2h-1.2zM459.12 95.29h1.2v1.2h-1.2zM457.02 97.3h1.2v1.2h-1.2zM453.87 115.71h1.2v1.2h-1.2zM458.33 95.43h1.2v1.2h-1.2zM455.75 112.11h1.2v1.2h-1.2zM451.4 114.05h1.2v1.2h-1.2zM457.22 90.8h1.2v1.2h-1.2zM455.23 104.34h1.2v1.2h-1.2z" fill="#4a58e6" opacity="0.9"/>
<path d="M462.3 78.23h1.2v1.2h-1.2zM460.91 85.39h1.2v1.2h-1.2zM463.69 97.1h1.2v1.2h-1.2zM462.36 88.4h1.2v1.2h-1.2zM458.99 93.5h1.2v1.2h-1.2zM462.02 92.45h1.2v1.2h-1.2zM460.96 89.01h1.2v1.2h-1.2zM461.73 88.71h1.2v1.2h-1.2zM461.78 79.2h1.2v1.2h-1.2zM458.92 94.25h1.2v1.2h-1.2zM463.5 84.46h1.2v1.2h-1.2zM463.68 79.74h1.2v1.2h-1.2zM461.9 83.3h1.2v1.2h-1.2zM461.59 93.59h1.2v1.2h-1.2zM464.37 87.6h1.2v1.2h-1.2zM460.59 94.57h1.2v1.2h-1.2zM459.35 95.34h1.2v1.2h-1.2zM461.41 88.73h1.2v1.2h-1.2zM464.12 94.68h1.2v1.2h-1.2zM461.3 96.86h1.2v1.2h-1.2zM464.65 87.83h1.2v1.2h-1.2zM464.26 96.53h1.2v1.2h-1.2zM463.13 82.91h1.2v1.2h-1.2zM463.08 83.37h1.2v1.2h-1.2zM464.09 82.61h1.2v1.2h-1.2z" fill="#6a60e2" opacity="0.75"/>
<path d="M469.7 77.52h1.2v1.2h-1.2zM468.02 98.73h1.2v1.2h-1.2zM466.11 118.66h1.2v1.2h-1.2zM467.17 103.96h1.2v1.2h-1.2zM468.35 85.76h1.2v1.2h-1.2zM466.17 115.17h1.2v1.2h-1.2zM462.53 108.83h1.2v1.2h-1.2zM467.06 118.94h1.2v1.2h-1.2zM465.16 94.33h1.2v1.2h-1.2zM469.38 95.9h1.2v1.2h-1.2zM466.6 105.93h1.2v1.2h-1.2zM471.13 76.36h1.2v1.2h-1.2zM465.3 115.52h1.2v1.2h-1.2zM466.22 89.15h1.2v1.2h-1.2zM471.19 73.52h1.2v1.2h-1.2zM468.64 86.16h1.2v1.2h-1.2zM468.43 87.91h1.2v1.2h-1.2zM469.55 68.1h1.2v1.2h-1.2zM470.59 81.74h1.2v1.2h-1.2zM470.21 80.62h1.2v1.2h-1.2zM469.18 76.94h1.2v1.2h-1.2zM464.48 97.26h1.2v1.2h-1.2zM467.49 86.18h1.2v1.2h-1.2zM467.08 101.41h1.2v1.2h-1.2zM472.4 76.85h1.2v1.2h-1.2zM467.94 102.22h1.2v1.2h-1.2zM465.25 113.38h1.2v1.2h-1.2zM470.85 82.18h1.2v1.2h-1.2zM467.75 93.24h1.2v1.2h-1.2zM467.82 94.54h1.2v1.2h-1.2zM468 96.11h1.2v1.2h-1.2zM464.91 94.02h1.2v1.2h-1.2zM469.75 95.19h1.2v1.2h-1.2zM469.24 83.4h1.2v1.2h-1.2zM467.77 88.17h1.2v1.2h-1.2zM466.75 72.54h1.2v1.2h-1.2zM467.27 103.85h1.2v1.2h-1.2zM471.39 79.98h1.2v1.2h-1.2zM465.2 106.75h1.2v1.2h-1.2zM466.32 82.22h1.2v1.2h-1.2zM468.97 88.9h1.2v1.2h-1.2zM465.32 83.42h1.2v1.2h-1.2zM464.33 78.22h1.2v1.2h-1.2zM468.53 66.72h1.2v1.2h-1.2zM467.76 73.24h1.2v1.2h-1.2zM467.09 96.29h1.2v1.2h-1.2zM465.33 107.98h1.2v1.2h-1.2zM468.36 96.06h1.2v1.2h-1.2zM468.32 78.52h1.2v1.2h-1.2zM468.01 70.61h1.2v1.2h-1.2zM468 75.81h1.2v1.2h-1.2zM466.14 117.89h1.2v1.2h-1.2zM470.28 84.26h1.2v1.2h-1.2zM469.71 92.25h1.2v1.2h-1.2zM470.23 77.43h1.2v1.2h-1.2zM462.34 75.18h1.2v1.2h-1.2zM466.99 73.23h1.2v1.2h-1.2zM467.6 86.63h1.2v1.2h-1.2zM469.12 78.42h1.2v1.2h-1.2zM461.91 116.02h1.2v1.2h-1.2zM470.15 101.1h1.2v1.2h-1.2zM470 67.63h1.2v1.2h-1.2zM463.37 119.15h1.2v1.2h-1.2zM468.97 80.29h1.2v1.2h-1.2zM465.98 104h1.2v1.2h-1.2zM466.46 88.71h1.2v1.2h-1.2zM468.6 98.26h1.2v1.2h-1.2zM466.62 97.72h1.2v1.2h-1.2zM463.82 104.65h1.2v1.2h-1.2zM466.27 97.82h1.2v1.2h-1.2zM468.06 86.93h1.2v1.2h-1.2zM466.96 71.08h1.2v1.2h-1.2zM467.2 119.61h1.2v1.2h-1.2zM464.46 105.1h1.2v1.2h-1.2zM471.9 83.54h1.2v1.2h-1.2zM470.09 84.61h1.2v1.2h-1.2zM466.61 83.44h1.2v1.2h-1.2zM468.49 87.85h1.2v1.2h-1.2zM471.61 70.9h1.2v1.2h-1.2zM468.48 78.48h1.2v1.2h-1.2zM465.92 86.52h1.2v1.2h-1.2zM465.11 118.18h1.2v1.2h-1.2zM470.02 109.71h1.2v1.2h-1.2zM464.54 99.55h1.2v1.2h-1.2zM468.31 101.35h1.2v1.2h-1.2zM464.75 118.1h1.2v1.2h-1.2zM468.01 89.31h1.2v1.2h-1.2zM467.69 81.59h1.2v1.2h-1.2zM467.7 85.88h1.2v1.2h-1.2zM469.83 96.05h1.2v1.2h-1.2zM466.29 116.65h1.2v1.2h-1.2zM466.61 80.27h1.2v1.2h-1.2zM472.09 74.71h1.2v1.2h-1.2zM466.37 74.6h1.2v1.2h-1.2zM467.88 105.23h1.2v1.2h-1.2zM469.25 76.46h1.2v1.2h-1.2zM469.95 98.71h1.2v1.2h-1.2zM468.69 91.44h1.2v1.2h-1.2zM467.66 114.02h1.2v1.2h-1.2zM468 89.64h1.2v1.2h-1.2zM470.26 86.65h1.2v1.2h-1.2zM466.43 111.41h1.2v1.2h-1.2zM469.86 113.7h1.2v1.2h-1.2zM466.17 99.12h1.2v1.2h-1.2zM469.53 102.48h1.2v1.2h-1.2zM470.39 65.89h1.2v1.2h-1.2zM466.74 106.7h1.2v1.2h-1.2zM466.96 89.27h1.2v1.2h-1.2zM466.79 111.12h1.2v1.2h-1.2zM464.33 101.99h1.2v1.2h-1.2zM466.01 80.09h1.2v1.2h-1.2zM468.06 105.26h1.2v1.2h-1.2zM465.84 75.68h1.2v1.2h-1.2zM472.38 64.43h1.2v1.2h-1.2zM465.96 104.42h1.2v1.2h-1.2zM465.37 117.26h1.2v1.2h-1.2zM468.71 81.54h1.2v1.2h-1.2zM468.16 99.48h1.2v1.2h-1.2zM467.25 93.21h1.2v1.2h-1.2zM463.97 119.85h1.2v1.2h-1.2zM467.4 96.88h1.2v1.2h-1.2zM466.86 117.24h1.2v1.2h-1.2zM467.31 119.27h1.2v1.2h-1.2zM469.41 104.37h1.2v1.2h-1.2zM469.48 78.69h1.2v1.2h-1.2zM468.61 75.18h1.2v1.2h-1.2zM465.3 79.7h1.2v1.2h-1.2zM466.9 114.54h1.2v1.2h-1.2zM468.59 102.33h1.2v1.2h-1.2zM467.08 92.31h1.2v1.2h-1.2zM469.89 87.01h1.2v1.2h-1.2zM470.96 84.5h1.2v1.2h-1.2zM469.1 77.66h1.2v1.2h-1.2zM468.95 102.8h1.2v1.2h-1.2zM469.3 79.38h1.2v1.2h-1.2zM462.91 107.84h1.2v1.2h-1.2zM464.45 115.03h1.2v1.2h-1.2zM467.92 80.2h1.2v1.2h-1.2zM468.14 103h1.2v1.2h-1.2zM466.71 86.63h1.2v1.2h-1.2zM468.18 73.34h1.2v1.2h-1.2zM464.15 109.88h1.2v1.2h-1.2zM468.5 82.79h1.2v1.2h-1.2zM468.91 78.38h1.2v1.2h-1.2zM466.92 117.14h1.2v1.2h-1.2zM466.79 115.38h1.2v1.2h-1.2zM465.41 116.04h1.2v1.2h-1.2zM466.64 108h1.2v1.2h-1.2zM466.78 105.76h1.2v1.2h-1.2zM466.9 103.96h1.2v1.2h-1.2zM471.06 92.66h1.2v1.2h-1.2zM463.25 86.43h1.2v1.2h-1.2zM464.64 119.36h1.2v1.2h-1.2zM469.49 78.82h1.2v1.2h-1.2zM470.65 86.16h1.2v1.2h-1.2zM465.91 89.87h1.2v1.2h-1.2zM468.7 91.13h1.2v1.2h-1.2zM469.13 101.65h1.2v1.2h-1.2zM467.63 83.16h1.2v1.2h-1.2zM465.72 66.22h1.2v1.2h-1.2zM464.8 112.89h1.2v1.2h-1.2zM465.58 93.09h1.2v1.2h-1.2zM470.29 74.22h1.2v1.2h-1.2zM467.68 68.45h1.2v1.2h-1.2zM471.44 92.06h1.2v1.2h-1.2zM469.56 69.39h1.2v1.2h-1.2zM467.12 79.88h1.2v1.2h-1.2zM468.35 68.16h1.2v1.2h-1.2zM465.21 100.04h1.2v1.2h-1.2zM466.61 112.17h1.2v1.2h-1.2zM472.42 67.28h1.2v1.2h-1.2zM467.48 94.45h1.2v1.2h-1.2zM470.29 81.85h1.2v1.2h-1.2zM464 111.61h1.2v1.2h-1.2zM468.66 91.52h1.2v1.2h-1.2zM473.13 81.36h1.2v1.2h-1.2zM466.25 72.47h1.2v1.2h-1.2zM470.24 96.54h1.2v1.2h-1.2zM470.86 81.93h1.2v1.2h-1.2zM462.37 108.68h1.2v1.2h-1.2zM462.27 116.82h1.2v1.2h-1.2zM464.53 106.53h1.2v1.2h-1.2zM470 91.23h1.2v1.2h-1.2zM467.84 79.07h1.2v1.2h-1.2zM468.36 80.21h1.2v1.2h-1.2zM470.47 74.97h1.2v1.2h-1.2zM469.66 67.89h1.2v1.2h-1.2zM467.78 98.71h1.2v1.2h-1.2zM465.42 110.45h1.2v1.2h-1.2zM470.33 90.47h1.2v1.2h-1.2zM463.72 114.36h1.2v1.2h-1.2zM470.26 105.22h1.2v1.2h-1.2zM468.4 71.76h1.2v1.2h-1.2zM467.54 74.22h1.2v1.2h-1.2zM468.35 102.21h1.2v1.2h-1.2zM467.15 110.05h1.2v1.2h-1.2zM465.39 68.79h1.2v1.2h-1.2zM469.31 75.68h1.2v1.2h-1.2zM463.74 107.18h1.2v1.2h-1.2zM467.57 71.22h1.2v1.2h-1.2z" fill="#3a5aee" opacity="1.0"/>
<path d="M471.87 115.17h1.2v1.2h-1.2zM472.91 110.97h1.2v1.2h-1.2zM469.01 116.66h1.2v1.2h-1.2zM471.77 113.11h1.2v1.2h-1.2zM472.26 118.48h1.2v1.2h-1.2zM470.25 112.64h1.2v1.2h-1.2zM468.93 111.57h1.2v1.2h-1.2zM468.89 106.34h1.2v1.2h-1.2zM472.28 109.8h1.2v1.2h-1.2zM472.38 117.04h1.2v1.2h-1.2zM469.14 126.34h1.2v1.2h-1.2zM468.12 109.2h1.2v1.2h-1.2zM473.26 110.05h1.2v1.2h-1.2zM467.7 115.52h1.2v1.2h-1.2zM471.11 116.08h1.2v1.2h-1.2zM469.19 111.48h1.2v1.2h-1.2zM467.29 114.49h1.2v1.2h-1.2zM471.04 107.78h1.2v1.2h-1.2zM470.41 112.99h1.2v1.2h-1.2zM473.65 117.76h1.2v1.2h-1.2zM475.31 120.68h1.2v1.2h-1.2zM470.41 113.51h1.2v1.2h-1.2zM472.83 113.15h1.2v1.2h-1.2zM472.87 115.98h1.2v1.2h-1.2zM469.75 118.59h1.2v1.2h-1.2zM469.06 116.12h1.2v1.2h-1.2zM473.99 111.19h1.2v1.2h-1.2zM470.06 115.6h1.2v1.2h-1.2zM470.74 118.03h1.2v1.2h-1.2zM470.21 111.34h1.2v1.2h-1.2zM470.52 108.86h1.2v1.2h-1.2zM469.59 116.21h1.2v1.2h-1.2zM472.28 115.64h1.2v1.2h-1.2zM473.29 118.03h1.2v1.2h-1.2zM470.05 114.54h1.2v1.2h-1.2zM468.04 111.62h1.2v1.2h-1.2zM470.89 112.45h1.2v1.2h-1.2zM467.83 110.09h1.2v1.2h-1.2zM469.51 110.42h1.2v1.2h-1.2zM473.24 111.95h1.2v1.2h-1.2zM475.41 112.27h1.2v1.2h-1.2zM471.54 118.62h1.2v1.2h-1.2zM468.67 109.31h1.2v1.2h-1.2zM472.34 114h1.2v1.2h-1.2zM466.32 111.85h1.2v1.2h-1.2zM469.41 120.11h1.2v1.2h-1.2zM473.82 115.24h1.2v1.2h-1.2zM472.27 112.71h1.2v1.2h-1.2zM468.04 117.44h1.2v1.2h-1.2zM467.48 114.46h1.2v1.2h-1.2zM472.49 112.31h1.2v1.2h-1.2zM470.69 120.31h1.2v1.2h-1.2zM469.61 117.03h1.2v1.2h-1.2zM471.61 121.08h1.2v1.2h-1.2zM469.65 118.81h1.2v1.2h-1.2zM466.96 117.29h1.2v1.2h-1.2zM472.4 114.73h1.2v1.2h-1.2zM469.5 109.9h1.2v1.2h-1.2zM468.79 117.03h1.2v1.2h-1.2zM468.13 114.5h1.2v1.2h-1.2z" fill="#3a4ee0" opacity="0.9"/>
<path d="M470.98 75.97h1.2v1.2h-1.2zM465.87 102.95h1.2v1.2h-1.2zM465.82 103.64h1.2v1.2h-1.2zM467.31 109.04h1.2v1.2h-1.2zM465.97 114.53h1.2v1.2h-1.2zM464.61 101.88h1.2v1.2h-1.2zM465.46 114.91h1.2v1.2h-1.2zM469.56 83.68h1.2v1.2h-1.2zM467.88 83.21h1.2v1.2h-1.2zM468.15 96.82h1.2v1.2h-1.2zM468.38 94.92h1.2v1.2h-1.2zM468.12 80.73h1.2v1.2h-1.2zM468.3 76.43h1.2v1.2h-1.2zM464.59 110.85h1.2v1.2h-1.2zM468.18 86.22h1.2v1.2h-1.2zM467.01 81.34h1.2v1.2h-1.2zM466.13 106.99h1.2v1.2h-1.2zM466.36 86.54h1.2v1.2h-1.2zM468.84 83.48h1.2v1.2h-1.2zM468.74 81.66h1.2v1.2h-1.2zM467.58 80.68h1.2v1.2h-1.2zM469.79 84.65h1.2v1.2h-1.2zM469.16 107.09h1.2v1.2h-1.2zM469.83 93.35h1.2v1.2h-1.2zM466.03 94.75h1.2v1.2h-1.2zM468.76 102.46h1.2v1.2h-1.2zM468.34 93.2h1.2v1.2h-1.2zM468.32 87.33h1.2v1.2h-1.2zM468.33 75.94h1.2v1.2h-1.2zM467.89 95.52h1.2v1.2h-1.2zM470.74 81.38h1.2v1.2h-1.2zM465.78 114.17h1.2v1.2h-1.2zM465.77 106.42h1.2v1.2h-1.2zM466.08 102.86h1.2v1.2h-1.2zM468.47 79.2h1.2v1.2h-1.2zM469.79 79.41h1.2v1.2h-1.2zM471.13 86.03h1.2v1.2h-1.2zM464.59 108.03h1.2v1.2h-1.2zM464.75 115.16h1.2v1.2h-1.2zM467.32 96.79h1.2v1.2h-1.2zM465.72 103.54h1.2v1.2h-1.2zM468.29 98.92h1.2v1.2h-1.2zM470 76.36h1.2v1.2h-1.2zM466 95.45h1.2v1.2h-1.2zM467.44 80.27h1.2v1.2h-1.2zM470.07 86.49h1.2v1.2h-1.2zM466.74 106.39h1.2v1.2h-1.2zM469.66 79.83h1.2v1.2h-1.2zM467.46 92.33h1.2v1.2h-1.2zM466.51 102.55h1.2v1.2h-1.2zM469.57 79.5h1.2v1.2h-1.2zM465.49 108.54h1.2v1.2h-1.2zM467.09 83.92h1.2v1.2h-1.2zM465.5 111.91h1.2v1.2h-1.2zM470.56 74.89h1.2v1.2h-1.2zM464.08 109.97h1.2v1.2h-1.2zM469.53 93.33h1.2v1.2h-1.2zM467.08 107.33h1.2v1.2h-1.2zM468.02 74.69h1.2v1.2h-1.2zM467.4 99.33h1.2v1.2h-1.2zM468.58 83.12h1.2v1.2h-1.2zM469.2 89.51h1.2v1.2h-1.2zM467.69 103.88h1.2v1.2h-1.2zM466.8 85.06h1.2v1.2h-1.2zM465.16 101.91h1.2v1.2h-1.2zM470.5 77.46h1.2v1.2h-1.2zM469 80.9h1.2v1.2h-1.2zM468.14 98.68h1.2v1.2h-1.2zM469.22 81.21h1.2v1.2h-1.2zM469.69 100.2h1.2v1.2h-1.2zM464.76 106.11h1.2v1.2h-1.2zM469.53 92.97h1.2v1.2h-1.2zM465.21 106.37h1.2v1.2h-1.2zM467.85 104.31h1.2v1.2h-1.2zM467.49 111.77h1.2v1.2h-1.2zM466.02 94.32h1.2v1.2h-1.2zM468.81 90.72h1.2v1.2h-1.2zM466.5 105.19h1.2v1.2h-1.2zM464.48 114.48h1.2v1.2h-1.2zM467.73 100.23h1.2v1.2h-1.2zM467.69 74.5h1.2v1.2h-1.2zM466.22 101.05h1.2v1.2h-1.2zM470.04 76.78h1.2v1.2h-1.2zM470.18 77.07h1.2v1.2h-1.2zM465.92 105.12h1.2v1.2h-1.2zM464.07 108.72h1.2v1.2h-1.2zM471.97 83.38h1.2v1.2h-1.2zM468.29 105.14h1.2v1.2h-1.2zM465.8 112.11h1.2v1.2h-1.2zM466.58 93.45h1.2v1.2h-1.2zM465.77 104.83h1.2v1.2h-1.2zM469.01 83.66h1.2v1.2h-1.2zM466.29 99.88h1.2v1.2h-1.2zM470.57 88.22h1.2v1.2h-1.2zM465.79 110.55h1.2v1.2h-1.2zM468.4 96.89h1.2v1.2h-1.2zM462.78 118.35h1.2v1.2h-1.2zM466.63 97.55h1.2v1.2h-1.2zM467.57 85.68h1.2v1.2h-1.2zM469.67 73.42h1.2v1.2h-1.2zM464.18 115.78h1.2v1.2h-1.2zM467.53 94.19h1.2v1.2h-1.2zM466.97 104.51h1.2v1.2h-1.2zM468.48 91.95h1.2v1.2h-1.2zM469.78 97.41h1.2v1.2h-1.2zM466.99 100.69h1.2v1.2h-1.2zM466.51 95.29h1.2v1.2h-1.2zM468.38 88.66h1.2v1.2h-1.2zM468.81 103.76h1.2v1.2h-1.2zM466.12 103.28h1.2v1.2h-1.2zM469.34 75.25h1.2v1.2h-1.2zM465.73 107.49h1.2v1.2h-1.2zM465.23 115.92h1.2v1.2h-1.2zM468.14 98.03h1.2v1.2h-1.2zM465.29 105.36h1.2v1.2h-1.2zM468.25 85.63h1.2v1.2h-1.2zM469.37 92.4h1.2v1.2h-1.2zM469.44 95.89h1.2v1.2h-1.2zM466.65 112.36h1.2v1.2h-1.2zM469.33 91.07h1.2v1.2h-1.2zM467.8 91.21h1.2v1.2h-1.2zM464.88 110.78h1.2v1.2h-1.2zM470.21 80.73h1.2v1.2h-1.2zM466.82 87.54h1.2v1.2h-1.2zM469.02 76.65h1.2v1.2h-1.2zM465.95 85.44h1.2v1.2h-1.2zM464.65 112.62h1.2v1.2h-1.2zM468.25 75.33h1.2v1.2h-1.2zM467.1 81.88h1.2v1.2h-1.2zM467.9 102.8h1.2v1.2h-1.2zM467.04 92.22h1.2v1.2h-1.2zM467.05 99.88h1.2v1.2h-1.2zM468.38 82.87h1.2v1.2h-1.2zM467.28 88.16h1.2v1.2h-1.2zM470.04 93.09h1.2v1.2h-1.2zM463.82 115.5h1.2v1.2h-1.2zM464.54 115.79h1.2v1.2h-1.2zM466.19 93.8h1.2v1.2h-1.2zM467.53 91.14h1.2v1.2h-1.2zM465.57 109.01h1.2v1.2h-1.2zM465.13 110.43h1.2v1.2h-1.2zM463.51 118.67h1.2v1.2h-1.2zM464.86 116.77h1.2v1.2h-1.2zM469.83 99.76h1.2v1.2h-1.2zM464.11 118.65h1.2v1.2h-1.2zM467.97 91.92h1.2v1.2h-1.2zM468.2 82.34h1.2v1.2h-1.2zM471.4 95.9h1.2v1.2h-1.2zM471.38 77.17h1.2v1.2h-1.2zM470.1 73.89h1.2v1.2h-1.2zM467.28 106.5h1.2v1.2h-1.2zM463.35 116.22h1.2v1.2h-1.2zM464.58 115.46h1.2v1.2h-1.2zM466.23 108.94h1.2v1.2h-1.2zM469.41 74.04h1.2v1.2h-1.2zM468.15 73.92h1.2v1.2h-1.2zM467.84 80.79h1.2v1.2h-1.2zM467.98 101.37h1.2v1.2h-1.2zM468.25 97.47h1.2v1.2h-1.2zM465.62 86.78h1.2v1.2h-1.2zM465.96 108.12h1.2v1.2h-1.2zM466.66 114.02h1.2v1.2h-1.2zM467.73 85.09h1.2v1.2h-1.2zM466.46 108.4h1.2v1.2h-1.2zM465.56 101.03h1.2v1.2h-1.2zM465.53 115.59h1.2v1.2h-1.2zM463.67 112.64h1.2v1.2h-1.2zM466.23 95.49h1.2v1.2h-1.2zM464.5 115.1h1.2v1.2h-1.2zM471.45 92.43h1.2v1.2h-1.2z" fill="#22bcd8" opacity="1.0"/>
<path d="M467.16 99.39h1.2v1.2h-1.2zM465.64 107.46h1.2v1.2h-1.2zM469.37 98.53h1.2v1.2h-1.2zM464.05 107.73h1.2v1.2h-1.2zM467.86 99.01h1.2v1.2h-1.2zM469.53 82.2h1.2v1.2h-1.2zM468.69 87.41h1.2v1.2h-1.2zM470.27 93.32h1.2v1.2h-1.2zM467.9 102.69h1.2v1.2h-1.2zM467.52 103.32h1.2v1.2h-1.2zM465.69 104.14h1.2v1.2h-1.2zM468.39 95.1h1.2v1.2h-1.2zM463.97 115.78h1.2v1.2h-1.2zM468.98 84.76h1.2v1.2h-1.2zM467.35 101.88h1.2v1.2h-1.2zM464.79 111.79h1.2v1.2h-1.2zM465.93 111.79h1.2v1.2h-1.2zM466.89 111.25h1.2v1.2h-1.2zM468.95 94.82h1.2v1.2h-1.2zM469.27 82.12h1.2v1.2h-1.2zM464.16 107.25h1.2v1.2h-1.2zM469.69 86.61h1.2v1.2h-1.2zM469.51 88.3h1.2v1.2h-1.2zM467.55 97.42h1.2v1.2h-1.2zM467.27 97.94h1.2v1.2h-1.2zM465.1 114.24h1.2v1.2h-1.2zM467.65 91.3h1.2v1.2h-1.2zM466.96 105.64h1.2v1.2h-1.2zM468.21 81.1h1.2v1.2h-1.2zM468.2 83.51h1.2v1.2h-1.2zM466.66 103.31h1.2v1.2h-1.2zM466.9 93.02h1.2v1.2h-1.2zM468.14 93.73h1.2v1.2h-1.2zM466.97 104.83h1.2v1.2h-1.2zM464.06 110.89h1.2v1.2h-1.2zM467.57 103.47h1.2v1.2h-1.2zM468.25 85.24h1.2v1.2h-1.2zM464.91 116.47h1.2v1.2h-1.2zM467.07 103.06h1.2v1.2h-1.2zM467.33 97.3h1.2v1.2h-1.2zM464.67 111.51h1.2v1.2h-1.2zM465.98 100.19h1.2v1.2h-1.2zM465.71 106.7h1.2v1.2h-1.2zM466.39 101.33h1.2v1.2h-1.2zM468.79 100.43h1.2v1.2h-1.2zM465.85 112.01h1.2v1.2h-1.2zM467.64 85.46h1.2v1.2h-1.2zM466.05 111.1h1.2v1.2h-1.2zM464.42 117.98h1.2v1.2h-1.2zM464.04 115.85h1.2v1.2h-1.2zM468.21 96.88h1.2v1.2h-1.2zM469.31 87.63h1.2v1.2h-1.2zM465.8 106.51h1.2v1.2h-1.2zM466.8 101.3h1.2v1.2h-1.2zM465.2 112.87h1.2v1.2h-1.2zM467.94 85.81h1.2v1.2h-1.2zM468.19 94.31h1.2v1.2h-1.2zM465.05 111.58h1.2v1.2h-1.2zM465.75 106.37h1.2v1.2h-1.2zM464.66 111.7h1.2v1.2h-1.2zM467.86 99.18h1.2v1.2h-1.2zM465.91 112.34h1.2v1.2h-1.2zM468.27 96.12h1.2v1.2h-1.2zM468.24 83.22h1.2v1.2h-1.2zM469.66 83.54h1.2v1.2h-1.2zM464.73 114.19h1.2v1.2h-1.2zM465.74 111.57h1.2v1.2h-1.2zM469.45 90.17h1.2v1.2h-1.2zM466.9 97.97h1.2v1.2h-1.2zM468.07 92.3h1.2v1.2h-1.2zM468.3 84.63h1.2v1.2h-1.2zM465.99 102.92h1.2v1.2h-1.2zM469.62 96.17h1.2v1.2h-1.2zM468.92 94.3h1.2v1.2h-1.2zM463.39 112.64h1.2v1.2h-1.2zM469.07 86.59h1.2v1.2h-1.2zM463.98 115.83h1.2v1.2h-1.2zM468.57 99.98h1.2v1.2h-1.2zM467.86 96.88h1.2v1.2h-1.2zM465.75 107.76h1.2v1.2h-1.2zM466.66 105.26h1.2v1.2h-1.2zM467.75 100.57h1.2v1.2h-1.2zM468.61 87.87h1.2v1.2h-1.2zM466.88 102.21h1.2v1.2h-1.2zM468.33 89.83h1.2v1.2h-1.2zM465.25 114.45h1.2v1.2h-1.2zM464.51 109.62h1.2v1.2h-1.2zM466.18 107.18h1.2v1.2h-1.2zM465.8 108.32h1.2v1.2h-1.2zM466.38 102.85h1.2v1.2h-1.2zM466.59 108.52h1.2v1.2h-1.2zM464.23 111.33h1.2v1.2h-1.2zM465.53 107.62h1.2v1.2h-1.2zM467.67 91.18h1.2v1.2h-1.2zM464.52 117.06h1.2v1.2h-1.2zM464.77 111.3h1.2v1.2h-1.2zM466.11 107.12h1.2v1.2h-1.2zM466.91 105.16h1.2v1.2h-1.2zM464.12 110.32h1.2v1.2h-1.2zM469.19 85.91h1.2v1.2h-1.2zM465.15 109.37h1.2v1.2h-1.2zM467.96 92.98h1.2v1.2h-1.2zM464.77 114.22h1.2v1.2h-1.2zM467.59 104.76h1.2v1.2h-1.2zM467.97 100.95h1.2v1.2h-1.2zM468.19 102.93h1.2v1.2h-1.2zM468.11 95.17h1.2v1.2h-1.2zM466.12 104.22h1.2v1.2h-1.2zM465.37 108.61h1.2v1.2h-1.2zM467.91 100.85h1.2v1.2h-1.2zM469.03 98.59h1.2v1.2h-1.2zM469.14 84.82h1.2v1.2h-1.2zM465.17 109.12h1.2v1.2h-1.2zM467.32 101.96h1.2v1.2h-1.2zM468.8 86.99h1.2v1.2h-1.2zM464.06 118.32h1.2v1.2h-1.2zM468.05 86.97h1.2v1.2h-1.2zM463.67 108.03h1.2v1.2h-1.2zM464.39 113.65h1.2v1.2h-1.2zM465.37 115.05h1.2v1.2h-1.2zM465.62 110.5h1.2v1.2h-1.2zM464.06 108.12h1.2v1.2h-1.2zM465.73 109.67h1.2v1.2h-1.2zM465.99 99.36h1.2v1.2h-1.2zM469.6 96.58h1.2v1.2h-1.2zM466.62 104.83h1.2v1.2h-1.2zM467.41 90.34h1.2v1.2h-1.2zM467.38 104.46h1.2v1.2h-1.2zM467.57 91.69h1.2v1.2h-1.2zM465.42 111.89h1.2v1.2h-1.2zM466.89 102.63h1.2v1.2h-1.2zM466.9 94.35h1.2v1.2h-1.2zM464.81 117.5h1.2v1.2h-1.2zM464.14 111.19h1.2v1.2h-1.2zM466.81 109.12h1.2v1.2h-1.2zM467.99 95.47h1.2v1.2h-1.2zM466.53 101.74h1.2v1.2h-1.2zM466.36 95.94h1.2v1.2h-1.2zM469.23 96.42h1.2v1.2h-1.2zM469.95 87.42h1.2v1.2h-1.2zM466.71 96.1h1.2v1.2h-1.2zM466.47 111.71h1.2v1.2h-1.2zM468.41 92.05h1.2v1.2h-1.2zM464.79 114.25h1.2v1.2h-1.2zM466.28 106.72h1.2v1.2h-1.2zM464.27 115.33h1.2v1.2h-1.2zM467.59 105.76h1.2v1.2h-1.2zM464.55 115.88h1.2v1.2h-1.2zM464.45 107.78h1.2v1.2h-1.2zM471.02 80.92h1.2v1.2h-1.2zM467.62 102.24h1.2v1.2h-1.2zM466.44 101.5h1.2v1.2h-1.2zM465.65 107.96h1.2v1.2h-1.2zM463.77 115.91h1.2v1.2h-1.2zM465.37 111.19h1.2v1.2h-1.2zM467.14 104.41h1.2v1.2h-1.2zM464.69 115.1h1.2v1.2h-1.2zM468.13 87.74h1.2v1.2h-1.2zM464.45 112.85h1.2v1.2h-1.2zM468.05 101.53h1.2v1.2h-1.2zM468.07 92.82h1.2v1.2h-1.2zM470.11 94.12h1.2v1.2h-1.2zM464.26 112.47h1.2v1.2h-1.2zM469.16 88.84h1.2v1.2h-1.2zM467.47 100.59h1.2v1.2h-1.2zM465.27 108.73h1.2v1.2h-1.2zM467.88 104.69h1.2v1.2h-1.2zM465.98 107.52h1.2v1.2h-1.2zM466.94 98.43h1.2v1.2h-1.2zM468.26 89.24h1.2v1.2h-1.2zM467.04 106.63h1.2v1.2h-1.2zM465.06 105.39h1.2v1.2h-1.2zM466.3 112.98h1.2v1.2h-1.2zM468.63 95.12h1.2v1.2h-1.2zM464.94 112.1h1.2v1.2h-1.2zM465.32 116.3h1.2v1.2h-1.2zM469.41 95.61h1.2v1.2h-1.2zM465.56 113.19h1.2v1.2h-1.2zM466 108.9h1.2v1.2h-1.2zM470.7 83.29h1.2v1.2h-1.2zM470.05 86.64h1.2v1.2h-1.2zM465.03 108.59h1.2v1.2h-1.2zM468.56 86.18h1.2v1.2h-1.2zM465.41 109.49h1.2v1.2h-1.2zM463.81 116.51h1.2v1.2h-1.2zM467.37 87.2h1.2v1.2h-1.2zM467.34 104.6h1.2v1.2h-1.2zM468.72 88.17h1.2v1.2h-1.2zM469.05 84.49h1.2v1.2h-1.2zM468.07 102.95h1.2v1.2h-1.2z" fill="#3ad64a" opacity="1.0"/>
<path d="M466.66 99.42h1.1v1.1h-1.1zM465.19 107.01h1.1v1.1h-1.1zM465.97 109.23h1.1v1.1h-1.1zM466.29 106.94h1.1v1.1h-1.1zM466.39 105.12h1.1v1.1h-1.1zM464.65 109.13h1.1v1.1h-1.1zM466.25 113.36h1.1v1.1h-1.1zM466.36 107.66h1.1v1.1h-1.1zM466.47 105.92h1.1v1.1h-1.1zM464.64 105.58h1.1v1.1h-1.1zM465.41 113.45h1.1v1.1h-1.1zM465.7 107.84h1.1v1.1h-1.1zM465.53 109.66h1.1v1.1h-1.1zM466.42 111.37h1.1v1.1h-1.1zM465.41 110.97h1.1v1.1h-1.1zM466.36 105.37h1.1v1.1h-1.1zM466.03 110.63h1.1v1.1h-1.1zM465.02 110.31h1.1v1.1h-1.1zM465.25 109.32h1.1v1.1h-1.1zM465.52 110.78h1.1v1.1h-1.1zM465.8 106.38h1.1v1.1h-1.1zM466.25 107.74h1.1v1.1h-1.1zM465.66 106.48h1.1v1.1h-1.1zM466.2 110.07h1.1v1.1h-1.1zM464.96 106.12h1.1v1.1h-1.1z" fill="#c8dc20" opacity="1.0"/>
<path d="M465.94 105.1h1v1h-1zM465.42 109.55h1v1h-1zM465.76 107.13h1v1h-1zM465.67 107.66h1v1h-1zM465.76 106.84h1v1h-1zM465.85 109.4h1v1h-1zM465.74 106.73h1v1h-1zM465.72 108.71h1v1h-1z" fill="#e8a020" opacity="1.0"/>
<path d="M476.64 95.93h1.2v1.2h-1.2zM478.06 62.75h1.2v1.2h-1.2zM472.35 118.4h1.2v1.2h-1.2zM477.63 105.12h1.2v1.2h-1.2zM479.19 94.41h1.2v1.2h-1.2zM480.35 118.09h1.2v1.2h-1.2zM477.81 93.19h1.2v1.2h-1.2zM476.86 71.97h1.2v1.2h-1.2zM480.06 108.18h1.2v1.2h-1.2zM472.56 118.71h1.2v1.2h-1.2zM478.54 65h1.2v1.2h-1.2zM477.87 91.63h1.2v1.2h-1.2zM477.94 74.98h1.2v1.2h-1.2zM474.59 115.64h1.2v1.2h-1.2zM472.12 67.15h1.2v1.2h-1.2zM472.67 109.8h1.2v1.2h-1.2zM477.49 73.77h1.2v1.2h-1.2zM474.21 99.88h1.2v1.2h-1.2zM479.94 102.92h1.2v1.2h-1.2zM472.5 107.03h1.2v1.2h-1.2zM478.73 64.58h1.2v1.2h-1.2zM475.7 90.39h1.2v1.2h-1.2zM474.05 68.94h1.2v1.2h-1.2zM473.69 68.99h1.2v1.2h-1.2zM474.58 71.11h1.2v1.2h-1.2zM474.71 70.28h1.2v1.2h-1.2zM473.44 117.5h1.2v1.2h-1.2zM473.37 95.02h1.2v1.2h-1.2zM480.14 76.62h1.2v1.2h-1.2zM475.19 90.53h1.2v1.2h-1.2zM477.01 64.7h1.2v1.2h-1.2zM477.72 74.36h1.2v1.2h-1.2zM474.39 99.02h1.2v1.2h-1.2zM479.81 103.07h1.2v1.2h-1.2zM474.04 98.34h1.2v1.2h-1.2zM473.13 120.48h1.2v1.2h-1.2zM471.8 120.18h1.2v1.2h-1.2zM473.77 111.44h1.2v1.2h-1.2zM471.95 89.34h1.2v1.2h-1.2zM477.05 106.83h1.2v1.2h-1.2z" fill="#7a70e6" opacity="0.75"/>
<path d="M420.63 107.92h1.2v1.2h-1.2zM436.02 116.44h1.2v1.2h-1.2zM420.49 108.47h1.2v1.2h-1.2zM439.17 116.9h1.2v1.2h-1.2zM414.74 113.53h1.2v1.2h-1.2zM434.31 111.66h1.2v1.2h-1.2z" fill="#9a94e8" opacity="0.6"/>
<path d="M498.43 84.87h1.2v1.2h-1.2zM481.76 93.64h1.2v1.2h-1.2zM497.92 122.63h1.2v1.2h-1.2zM489.84 91.14h1.2v1.2h-1.2zM493.55 118.98h1.2v1.2h-1.2zM492.76 59.95h1.2v1.2h-1.2z" fill="#9a94e8" opacity="0.6"/>
<rect x="457.4" y="62.9" width="15.4" height="35.6" fill="none" stroke="#d65ad6" stroke-width="1.0"/>
<g fill="#6aa5d2" stroke="#3d6c98" stroke-width="0.55">
<rect x="207.7" y="285.5" width="2.3" height="2"/>
<rect x="210" y="284.5" width="2.3" height="3"/>
<rect x="212.3" y="276.5" width="3.1" height="11"/>
<rect x="215.4" y="275" width="3.9" height="12.5"/>
<rect x="219.3" y="268.2" width="3" height="19.3"/>
<rect x="222.3" y="262.1" width="1.7" height="25.4"/>
<rect x="224" y="255.2" width="2.3" height="32.3"/>
<rect x="226.3" y="268" width="2.9" height="19.5"/>
<rect x="229.2" y="246" width="2.9" height="41.5"/>
<rect x="232.1" y="256.9" width="1.7" height="30.6"/>
<rect x="233.8" y="241.3" width="2.9" height="46.2"/>
<rect x="236.7" y="259" width="1.7" height="28.5"/>
<rect x="238.4" y="258.6" width="2.4" height="28.9"/>
<rect x="240.8" y="255.2" width="2.3" height="32.3"/>
<rect x="243.1" y="261.5" width="1.7" height="26"/>
<rect x="244.8" y="264.4" width="1.7" height="23.1"/>
<rect x="246.5" y="267.3" width="2.7" height="20.2"/>
<rect x="249.2" y="277.3" width="3.1" height="10.2"/>
<rect x="252.3" y="279.6" width="3.1" height="7.9"/>
<rect x="255.4" y="282" width="3.1" height="5.5"/>
<rect x="258.5" y="280.4" width="3.8" height="7.1"/>
<rect x="262.3" y="275" width="2.3" height="12.5"/>
<rect x="264.6" y="273.5" width="3.1" height="14"/>
<rect x="267.7" y="261" width="3.1" height="26.5"/>
<rect x="270.8" y="250" width="2.7" height="37.5"/>
<rect x="273.5" y="237.5" width="2" height="50"/>
<rect x="275.5" y="197.3" width="2.7" height="90.2"/>
<rect x="278.2" y="195.8" width="2.3" height="91.7"/>
<rect x="280.5" y="192.8" width="2.6" height="94.7"/>
<rect x="283.1" y="180.8" width="2.6" height="106.7"/>
<rect x="285.7" y="203" width="2.3" height="84.5"/>
<rect x="288" y="185.3" width="2.8" height="102.2"/>
<rect x="290.8" y="189.7" width="2.3" height="97.8"/>
<rect x="293.1" y="201.5" width="2.8" height="86"/>
<rect x="295.9" y="218" width="2.6" height="69.5"/>
<rect x="298.5" y="241.8" width="2.9" height="45.7"/>
<rect x="301.4" y="250" width="3.2" height="37.5"/>
<rect x="304.6" y="263.5" width="3.1" height="24"/>
<rect x="307.7" y="278" width="3.1" height="9.5"/>
<rect x="310.8" y="278" width="3" height="9.5"/>
<rect x="313.8" y="280.4" width="3.1" height="7.1"/>
<rect x="316.9" y="284.2" width="3.1" height="3.3"/>
<rect x="320" y="286.8" width="4.6" height="0.7"/>
<rect x="324.6" y="284.2" width="3.1" height="3.3"/>
<rect x="327.7" y="282.7" width="3.1" height="4.8"/>
<rect x="330.8" y="282.7" width="3.8" height="4.8"/>
</g>
<path d="M207.3,287.2 L207.35,287.18 L207.38,287.21 L207.43,287.22 L207.56,287.14 L207.8,286.93 L208.2,286.5 L208.81,285.83 L209.59,284.96 L210.48,283.95 L211.44,282.85 L212.4,281.71 L213.3,280.6 L214.18,279.47 L215.1,278.26 L216.02,277.03 L216.91,275.79 L217.75,274.6 L218.5,273.5 L219.15,272.5 L219.73,271.58 L220.26,270.71 L220.74,269.84 L221.22,268.95 L221.7,268 L222.17,266.98 L222.62,265.92 L223.06,264.84 L223.49,263.74 L223.93,262.66 L224.4,261.6 L224.9,260.54 L225.42,259.47 L225.96,258.41 L226.49,257.38 L227.01,256.4 L227.5,255.5 L227.96,254.67 L228.41,253.91 L228.84,253.2 L229.27,252.53 L229.68,251.9 L230.1,251.3 L230.52,250.71 L230.95,250.15 L231.37,249.62 L231.77,249.14 L232.15,248.73 L232.5,248.4 L232.8,248.16 L233.07,248.01 L233.31,247.92 L233.53,247.88 L233.76,247.88 L234,247.9 L234.25,247.93 L234.49,247.99 L234.73,248.09 L234.98,248.23 L235.23,248.43 L235.5,248.7 L235.78,249.06 L236.06,249.5 L236.35,250.01 L236.65,250.54 L236.97,251.08 L237.3,251.6 L237.66,252.11 L238.04,252.62 L238.44,253.14 L238.84,253.67 L239.23,254.19 L239.6,254.7 L239.94,255.2 L240.26,255.67 L240.57,256.15 L240.87,256.64 L241.18,257.15 L241.5,257.7 L241.83,258.31 L242.15,258.97 L242.48,259.65 L242.81,260.33 L243.15,260.99 L243.5,261.6 L243.87,262.15 L244.26,262.65 L244.65,263.13 L245.03,263.6 L245.39,264.09 L245.7,264.6 L245.94,265.12 L246.12,265.63 L246.27,266.14 L246.43,266.7 L246.63,267.31 L246.9,268 L247.26,268.81 L247.7,269.73 L248.17,270.7 L248.65,271.69 L249.1,272.63 L249.5,273.5 L249.81,274.27 L250.06,274.99 L250.28,275.67 L250.52,276.33 L250.81,277 L251.2,277.7 L251.69,278.44 L252.26,279.21 L252.88,279.98 L253.54,280.74 L254.22,281.45 L254.9,282.1 L255.58,282.69 L256.27,283.23 L256.98,283.72 L257.71,284.19 L258.48,284.61 L259.3,285 L260.12,285.35 L260.94,285.67 L261.8,285.94 L262.73,286.19 L263.79,286.41 L265,286.6 L265.84,286.76 L266.16,286.89 L266.61,286.99 L267.8,287.07 L270.39,287.13 L275,287.2 L282.8,287.26 L293.52,287.3 L305.62,287.34 L317.59,287.36 L327.89,287.38 L335,287.4" fill="none" stroke="#d9473c" stroke-width="1.15"/>
<path d="M207.3,287.4 L211.78,287.39 L218.29,287.39 L225.84,287.38 L233.46,287.36 L240.17,287.34 L245,287.3 L247.74,287.27 L249.13,287.24 L249.61,287.21 L249.63,287.15 L249.61,287.05 L250,286.9 L250.72,286.69 L251.41,286.43 L252.06,286.13 L252.69,285.8 L253.3,285.46 L253.9,285.1 L254.47,284.74 L255,284.37 L255.51,283.98 L256.01,283.56 L256.54,283.11 L257.1,282.6 L257.71,282.04 L258.34,281.45 L259,280.81 L259.66,280.14 L260.29,279.44 L260.9,278.7 L261.47,277.94 L262.03,277.16 L262.57,276.34 L263.1,275.49 L263.61,274.57 L264.1,273.6 L264.57,272.55 L265.01,271.43 L265.44,270.26 L265.86,269.06 L266.28,267.83 L266.7,266.6 L267.13,265.37 L267.56,264.13 L267.99,262.87 L268.41,261.58 L268.81,260.26 L269.2,258.9 L269.56,257.5 L269.91,256.06 L270.24,254.59 L270.57,253.09 L270.88,251.56 L271.2,250 L271.52,248.4 L271.83,246.75 L272.13,245.07 L272.43,243.37 L272.72,241.68 L273,240 L273.26,238.33 L273.51,236.64 L273.74,234.96 L273.98,233.28 L274.23,231.63 L274.5,230 L274.79,228.43 L275.08,226.93 L275.39,225.44 L275.71,223.94 L276.04,222.37 L276.4,220.7 L276.78,218.88 L277.19,216.94 L277.61,214.93 L278.04,212.93 L278.47,211 L278.9,209.2 L279.33,207.51 L279.76,205.87 L280.2,204.3 L280.64,202.82 L281.07,201.45 L281.5,200.2 L281.92,199.09 L282.34,198.09 L282.75,197.21 L283.16,196.42 L283.58,195.72 L284,195.1 L284.43,194.56 L284.86,194.11 L285.29,193.75 L285.73,193.48 L286.17,193.29 L286.6,193.2 L287.03,193.2 L287.47,193.3 L287.91,193.49 L288.34,193.76 L288.77,194.1 L289.2,194.5 L289.63,194.98 L290.06,195.56 L290.49,196.2 L290.91,196.89 L291.32,197.6 L291.7,198.3 L292.05,198.95 L292.37,199.56 L292.68,200.18 L292.98,200.89 L293.28,201.74 L293.6,202.8 L293.92,204.1 L294.25,205.6 L294.58,207.25 L294.91,208.99 L295.25,210.75 L295.6,212.5 L295.96,214.24 L296.34,216.02 L296.72,217.83 L297.11,219.67 L297.5,221.53 L297.9,223.4 L298.3,225.28 L298.71,227.17 L299.13,229.07 L299.55,231.01 L299.98,232.98 L300.4,235 L300.83,237.11 L301.26,239.31 L301.7,241.55 L302.14,243.77 L302.57,245.9 L303,247.9 L303.42,249.76 L303.84,251.51 L304.26,253.19 L304.68,254.81 L305.09,256.37 L305.5,257.9 L305.9,259.38 L306.27,260.79 L306.65,262.16 L307.04,263.49 L307.45,264.79 L307.9,266.1 L308.4,267.41 L308.93,268.71 L309.49,270 L310.06,271.25 L310.63,272.46 L311.2,273.6 L311.75,274.68 L312.3,275.7 L312.85,276.68 L313.41,277.62 L313.99,278.52 L314.6,279.4 L315.24,280.26 L315.91,281.11 L316.61,281.92 L317.31,282.68 L318.01,283.38 L318.7,284 L319.35,284.53 L319.95,284.99 L320.56,285.38 L321.2,285.72 L321.94,286.02 L322.8,286.3 L323.85,286.54 L325.05,286.73 L326.34,286.89 L327.65,287.01 L328.89,287.11 L330,287.2 L331.02,287.26 L332.01,287.3 L332.95,287.31 L333.79,287.3 L334.48,287.3 L335,287.3" fill="none" stroke="#e8b020" stroke-width="1.15"/>
<line x1="206.7" y1="287.5" x2="206.7" y2="183.9" stroke="#a8a8a8" stroke-width="1.0"/>
<line x1="204.5" y1="287.5" x2="206.7" y2="287.5" stroke="#a8a8a8" stroke-width="1.0"/>
<text transform="translate(202,287.5) rotate(-90)" font-size="4.4" text-anchor="middle" font-weight="normal" fill="#222" >0</text>
<line x1="204.5" y1="272.7" x2="206.7" y2="272.7" stroke="#a8a8a8" stroke-width="1.0"/>
<text transform="translate(202,272.7) rotate(-90)" font-size="4.4" text-anchor="middle" font-weight="normal" fill="#222" >10</text>
<line x1="204.5" y1="257.9" x2="206.7" y2="257.9" stroke="#a8a8a8" stroke-width="1.0"/>
<text transform="translate(202,257.9) rotate(-90)" font-size="4.4" text-anchor="middle" font-weight="normal" fill="#222" >20</text>
<line x1="204.5" y1="243.1" x2="206.7" y2="243.1" stroke="#a8a8a8" stroke-width="1.0"/>
<text transform="translate(202,243.1) rotate(-90)" font-size="4.4" text-anchor="middle" font-weight="normal" fill="#222" >30</text>
<line x1="204.5" y1="228.3" x2="206.7" y2="228.3" stroke="#a8a8a8" stroke-width="1.0"/>
<text transform="translate(202,228.3) rotate(-90)" font-size="4.4" text-anchor="middle" font-weight="normal" fill="#222" >40</text>
<line x1="204.5" y1="213.5" x2="206.7" y2="213.5" stroke="#a8a8a8" stroke-width="1.0"/>
<text transform="translate(202,213.5) rotate(-90)" font-size="4.4" text-anchor="middle" font-weight="normal" fill="#222" >50</text>
<line x1="204.5" y1="198.7" x2="206.7" y2="198.7" stroke="#a8a8a8" stroke-width="1.0"/>
<text transform="translate(202,198.7) rotate(-90)" font-size="4.4" text-anchor="middle" font-weight="normal" fill="#222" >60</text>
<line x1="204.5" y1="183.9" x2="206.7" y2="183.9" stroke="#a8a8a8" stroke-width="1.0"/>
<text transform="translate(202,183.9) rotate(-90)" font-size="4.4" text-anchor="middle" font-weight="normal" fill="#222" >70</text>
<line x1="222.5" y1="291.7" x2="333.2" y2="291.7" stroke="#a8a8a8" stroke-width="1.0"/>
<line x1="222.5" y1="291.7" x2="222.5" y2="293.9" stroke="#a8a8a8" stroke-width="1.0"/>
<text x="222.1" y="300.1" font-size="4.2" text-anchor="middle" font-weight="normal" fill="#222" >4000</text>
<line x1="250.5" y1="291.7" x2="250.5" y2="293.9" stroke="#a8a8a8" stroke-width="1.0"/>
<text x="250.1" y="300.1" font-size="4.2" text-anchor="middle" font-weight="normal" fill="#222" >6000</text>
<line x1="278" y1="291.7" x2="278" y2="293.9" stroke="#a8a8a8" stroke-width="1.0"/>
<text x="277.6" y="300.1" font-size="4.2" text-anchor="middle" font-weight="normal" fill="#222" >8000</text>
<line x1="305.6" y1="291.7" x2="305.6" y2="293.9" stroke="#a8a8a8" stroke-width="1.0"/>
<text x="305.2" y="300.1" font-size="4.2" text-anchor="middle" font-weight="normal" fill="#222" >10000</text>
<line x1="333.2" y1="291.7" x2="333.2" y2="293.9" stroke="#a8a8a8" stroke-width="1.0"/>
<text x="332.8" y="300.1" font-size="4.2" text-anchor="middle" font-weight="normal" fill="#222" >12000</text>
<text x="230.74" y="312" font-size="9.1" fill="#2a2a2a" textLength="88.9" lengthAdjust="spacingAndGlyphs">Chromosome 7 Probe</text>
<text transform="translate(185.6,223.6) rotate(-90)" font-size="9.3" fill="#2a2a2a" text-anchor="middle" textLength="29" lengthAdjust="spacingAndGlyphs">Events</text>
<g fill="#6aa5d2" stroke="#3d6c98" stroke-width="0.55">
<rect x="383.6" y="285.4" width="2.6" height="1.6"/>
<rect x="386.2" y="284.5" width="2.2" height="2.5"/>
<rect x="388.4" y="279.5" width="2.7" height="7.5"/>
<rect x="391.1" y="276.7" width="2.8" height="10.3"/>
<rect x="393.9" y="273.4" width="2.8" height="13.6"/>
<rect x="396.7" y="265" width="1.7" height="22"/>
<rect x="398.4" y="253" width="2.4" height="34"/>
<rect x="400.8" y="230" width="2.3" height="57"/>
<rect x="403.1" y="215.6" width="2.9" height="71.4"/>
<rect x="406" y="222" width="2.3" height="65"/>
<rect x="408.3" y="220.8" width="2.3" height="66.2"/>
<rect x="410.6" y="214.4" width="2.8" height="72.6"/>
<rect x="413.4" y="220.8" width="2.4" height="66.2"/>
<rect x="415.8" y="228.8" width="2.3" height="58.2"/>
<rect x="418.1" y="232.9" width="2.3" height="54.1"/>
<rect x="420.4" y="248.2" width="2.2" height="38.8"/>
<rect x="422.6" y="255" width="2" height="32"/>
<rect x="424.6" y="263" width="3.1" height="24"/>
<rect x="427.7" y="274.5" width="3.1" height="12.5"/>
<rect x="430.8" y="274.5" width="2.2" height="12.5"/>
<rect x="433" y="271.7" width="2.7" height="15.3"/>
<rect x="435.7" y="282" width="2.5" height="5"/>
<rect x="438.2" y="282.5" width="2.6" height="4.5"/>
<rect x="440.8" y="276.3" width="2.2" height="10.7"/>
<rect x="443" y="276.3" width="3.2" height="10.7"/>
<rect x="446.2" y="266" width="3" height="21"/>
<rect x="449.2" y="256" width="3.1" height="31"/>
<rect x="452.3" y="243.7" width="3.1" height="43.3"/>
<rect x="455.4" y="220.6" width="2.3" height="66.4"/>
<rect x="457.7" y="186.8" width="2.3" height="100.2"/>
<rect x="460" y="181.8" width="3.5" height="105.2"/>
<rect x="463.5" y="191.8" width="1.9" height="95.2"/>
<rect x="465.4" y="186.1" width="2.7" height="100.9"/>
<rect x="468.1" y="200" width="2.7" height="87"/>
<rect x="470.8" y="222.5" width="2.4" height="64.5"/>
<rect x="473.2" y="207.6" width="2.9" height="79.4"/>
<rect x="476.1" y="241.5" width="2.5" height="45.5"/>
<rect x="478.6" y="256.5" width="2.9" height="30.5"/>
<rect x="481.5" y="272.7" width="3.9" height="14.3"/>
<rect x="485.4" y="272.7" width="3.8" height="14.3"/>
<rect x="489.2" y="277.3" width="3.8" height="9.7"/>
<rect x="493" y="281.2" width="2.3" height="5.8"/>
<rect x="495.3" y="281.2" width="2.4" height="5.8"/>
<rect x="497.7" y="284.2" width="3.3" height="2.8"/>
<rect x="501" y="284.2" width="3.6" height="2.8"/>
<rect x="504.6" y="282.7" width="3.1" height="4.3"/>
<rect x="507.7" y="285" width="2.3" height="2"/>
<rect x="510" y="285" width="2.3" height="2"/>
</g>
<path d="M383.5,285.82 L384,285.63 L384.5,285.42 L385,285.18 L385.5,284.9 L386,284.59 L386.5,284.24 L387,283.85 L387.5,283.41 L388,282.92 L388.5,282.38 L389,281.78 L389.5,281.12 L390,280.4 L390.5,279.61 L391,278.74 L391.5,277.79 L392,276.77 L392.5,275.66 L393,274.47 L393.5,273.19 L394,271.81 L394.5,270.35 L395,268.8 L395.5,267.15 L396,265.42 L396.5,263.59 L397,261.68 L397.5,259.69 L398,257.63 L398.5,255.49 L399,253.28 L399.5,251.03 L400,248.72 L400.5,246.38 L401,244.01 L401.5,241.62 L402,239.24 L402.5,236.86 L403,234.51 L403.5,232.19 L404,229.93 L404.5,227.74 L405,225.63 L405.5,223.62 L406,221.72 L406.5,219.94 L407,218.3 L407.5,216.81 L408,215.49 L408.5,214.33 L409,213.36 L409.5,212.58 L410,211.99 L410.5,211.6 L411,211.42 L411.5,211.44 L412,211.66 L412.5,212.09 L413,212.72 L413.5,213.54 L414,214.55 L414.5,215.74 L415,217.1 L415.5,218.62 L416,220.28 L416.5,222.09 L417,224.01 L417.5,226.05 L418,228.17 L418.5,230.38 L419,232.65 L419.5,234.98 L420,237.33 L420.5,239.71 L421,242.1 L421.5,244.48 L422,246.85 L422.5,249.19 L423,251.48 L423.5,253.73 L424,255.92 L424.5,258.04 L425,260.1 L425.5,262.07 L426,263.96 L426.5,265.77 L427,267.49 L427.5,269.11 L428,270.65 L428.5,272.09 L429,273.45 L429.5,274.71 L430,275.89 L430.5,276.98 L431,277.99 L431.5,278.92 L432,279.77 L432.5,280.55 L433,281.26 L433.5,281.91 L434,282.5 L434.5,283.02 L435,283.5 L435.5,283.93 L436,284.31 L436.5,284.65 L437,284.96 L437.5,285.23 L438,285.46 L438.5,285.67 L439,285.86 L439.5,286.02 L440,286.16 L440.5,286.28 L441,286.39 L441.5,286.48 L442,286.56 L442.5,286.63 L443,286.69 L443.5,286.74 L444,286.78 L444.5,286.82 L445,286.85 L445.5,286.87 L446,286.89 L446.5,286.91 L447,286.93 L447.5,286.94 L448,286.95 L448.5,286.96 L449,286.97 L449.5,286.97 L450,286.98 L450.5,286.98 L451,286.99 L451.5,286.99 L452,286.99 L452.5,286.99 L453,286.99 L453.5,287 L454,287 L454.5,287 L455,287 L455.5,287 L456,287 L456.5,287 L457,287 L457.5,287 L458,287 L458.5,287 L459,287 L459.5,287 L460,287 L460.5,287 L461,287 L461.5,287 L462,287 L462.5,287 L463,287 L463.5,287 L464,287 L464.5,287 L465,287 L465.5,287 L466,287 L466.5,287 L467,287 L467.5,287 L468,287 L468.5,287 L469,287 L469.5,287 L470,287 L470.5,287 L471,287 L471.5,287 L472,287 L472.5,287 L473,287 L473.5,287 L474,287 L474.5,287 L475,287 L475.5,287 L476,287 L476.5,287 L477,287 L477.5,287 L478,287 L478.5,287 L479,287 L479.5,287 L480,287 L480.5,287 L481,287 L481.5,287 L482,287 L482.5,287 L483,287 L483.5,287 L484,287 L484.5,287 L485,287 L485.5,287 L486,287 L486.5,287 L487,287 L487.5,287 L488,287 L488.5,287 L489,287 L489.5,287 L490,287 L490.5,287 L491,287 L491.5,287 L492,287 L492.5,287 L493,287 L493.5,287 L494,287 L494.5,287 L495,287 L495.5,287 L496,287 L496.5,287 L497,287 L497.5,287 L498,287 L498.5,287 L499,287 L499.5,287 L500,287 L500.5,287 L501,287 L501.5,287 L502,287 L502.5,287 L503,287 L503.5,287 L504,287 L504.5,287 L505,287 L505.5,287 L506,287 L506.5,287 L507,287 L507.5,287 L508,287 L508.5,287 L509,287 L509.5,287 L510,287 L510.5,287 L511,287 L511.5,287 L512,287 L512.5,287" fill="none" stroke="#d9473c" stroke-width="1.15"/>
<path d="M383.5,287 L384,287 L384.5,287 L385,287 L385.5,287 L386,287 L386.5,287 L387,287 L387.5,287 L388,287 L388.5,287 L389,287 L389.5,287 L390,287 L390.5,287 L391,287 L391.5,287 L392,287 L392.5,287 L393,287 L393.5,287 L394,287 L394.5,287 L395,287 L395.5,287 L396,287 L396.5,287 L397,287 L397.5,287 L398,287 L398.5,287 L399,287 L399.5,287 L400,287 L400.5,287 L401,287 L401.5,287 L402,287 L402.5,287 L403,287 L403.5,287 L404,287 L404.5,287 L405,287 L405.5,287 L406,287 L406.5,287 L407,287 L407.5,287 L408,287 L408.5,287 L409,287 L409.5,287 L410,287 L410.5,287 L411,287 L411.5,287 L412,287 L412.5,287 L413,287 L413.5,287 L414,287 L414.5,287 L415,286.99 L415.5,286.99 L416,286.99 L416.5,286.99 L417,286.99 L417.5,286.98 L418,286.98 L418.5,286.98 L419,286.97 L419.5,286.97 L420,286.96 L420.5,286.96 L421,286.95 L421.5,286.94 L422,286.93 L422.5,286.92 L423,286.9 L423.5,286.88 L424,286.87 L424.5,286.84 L425,286.82 L425.5,286.79 L426,286.75 L426.5,286.71 L427,286.67 L427.5,286.62 L428,286.56 L428.5,286.49 L429,286.41 L429.5,286.33 L430,286.23 L430.5,286.12 L431,286 L431.5,285.86 L432,285.71 L432.5,285.53 L433,285.34 L433.5,285.13 L434,284.89 L434.5,284.62 L435,284.33 L435.5,284.01 L436,283.66 L436.5,283.27 L437,282.84 L437.5,282.37 L438,281.86 L438.5,281.31 L439,280.7 L439.5,280.05 L440,279.34 L440.5,278.58 L441,277.75 L441.5,276.87 L442,275.92 L442.5,274.91 L443,273.83 L443.5,272.68 L444,271.46 L444.5,270.16 L445,268.8 L445.5,267.35 L446,265.84 L446.5,264.25 L447,262.59 L447.5,260.85 L448,259.05 L448.5,257.18 L449,255.24 L449.5,253.24 L450,251.18 L450.5,249.07 L451,246.91 L451.5,244.71 L452,242.47 L452.5,240.2 L453,237.91 L453.5,235.6 L454,233.28 L454.5,230.97 L455,228.67 L455.5,226.39 L456,224.13 L456.5,221.92 L457,219.76 L457.5,217.65 L458,215.62 L458.5,213.66 L459,211.8 L459.5,210.03 L460,208.37 L460.5,206.82 L461,205.4 L461.5,204.11 L462,202.95 L462.5,201.95 L463,201.09 L463.5,200.39 L464,199.85 L464.5,199.47 L465,199.25 L465.5,199.2 L466,199.32 L466.5,199.6 L467,200.05 L467.5,200.65 L468,201.42 L468.5,202.33 L469,203.4 L469.5,204.61 L470,205.95 L470.5,207.42 L471,209.02 L471.5,210.72 L472,212.53 L472.5,214.44 L473,216.42 L473.5,218.49 L474,220.62 L474.5,222.8 L475,225.03 L475.5,227.3 L476,229.59 L476.5,231.9 L477,234.21 L477.5,236.52 L478,238.83 L478.5,241.11 L479,243.37 L479.5,245.59 L480,247.78 L480.5,249.92 L481,252.01 L481.5,254.05 L482,256.02 L482.5,257.93 L483,259.78 L483.5,261.56 L484,263.26 L484.5,264.89 L485,266.45 L485.5,267.94 L486,269.35 L486.5,270.69 L487,271.95 L487.5,273.15 L488,274.27 L488.5,275.32 L489,276.31 L489.5,277.23 L490,278.09 L490.5,278.89 L491,279.63 L491.5,280.32 L492,280.95 L492.5,281.53 L493,282.07 L493.5,282.56 L494,283.01 L494.5,283.43 L495,283.8 L495.5,284.14 L496,284.45 L496.5,284.73 L497,284.99 L497.5,285.22 L498,285.42 L498.5,285.61 L499,285.77 L499.5,285.92 L500,286.05 L500.5,286.17 L501,286.27 L501.5,286.36 L502,286.45 L502.5,286.52 L503,286.58 L503.5,286.64 L504,286.69 L504.5,286.73 L505,286.77 L505.5,286.8 L506,286.83 L506.5,286.85 L507,286.87 L507.5,286.89 L508,286.91 L508.5,286.92 L509,286.93 L509.5,286.94 L510,286.95 L510.5,286.96 L511,286.97 L511.5,286.97 L512,286.98 L512.5,286.98" fill="none" stroke="#e8b020" stroke-width="1.15"/>
<line x1="383.5" y1="287" x2="383.5" y2="201.69" stroke="#a8a8a8" stroke-width="1.0"/>
<line x1="381.3" y1="287" x2="383.5" y2="287" stroke="#a8a8a8" stroke-width="1.0"/>
<text transform="translate(377.2,287) rotate(-90)" font-size="4.4" text-anchor="middle" font-weight="normal" fill="#222" >0</text>
<line x1="381.3" y1="258.56" x2="383.5" y2="258.56" stroke="#a8a8a8" stroke-width="1.0"/>
<text transform="translate(377.2,258.56) rotate(-90)" font-size="4.4" text-anchor="middle" font-weight="normal" fill="#222" >50</text>
<line x1="381.3" y1="230.13" x2="383.5" y2="230.13" stroke="#a8a8a8" stroke-width="1.0"/>
<text transform="translate(377.2,230.13) rotate(-90)" font-size="4.4" text-anchor="middle" font-weight="normal" fill="#222" >100</text>
<line x1="381.3" y1="201.69" x2="383.5" y2="201.69" stroke="#a8a8a8" stroke-width="1.0"/>
<text transform="translate(377.2,201.69) rotate(-90)" font-size="4.4" text-anchor="middle" font-weight="normal" fill="#222" >150</text>
<line x1="399.2" y1="291.3" x2="512" y2="291.3" stroke="#a8a8a8" stroke-width="1.0"/>
<line x1="399.2" y1="291.3" x2="399.2" y2="293.5" stroke="#a8a8a8" stroke-width="1.0"/>
<text x="398.8" y="299.6" font-size="4.2" text-anchor="middle" font-weight="normal" fill="#222" >4000</text>
<line x1="427.5" y1="291.3" x2="427.5" y2="293.5" stroke="#a8a8a8" stroke-width="1.0"/>
<text x="427.1" y="299.6" font-size="4.2" text-anchor="middle" font-weight="normal" fill="#222" >6000</text>
<line x1="455.6" y1="291.3" x2="455.6" y2="293.5" stroke="#a8a8a8" stroke-width="1.0"/>
<text x="455.2" y="299.6" font-size="4.2" text-anchor="middle" font-weight="normal" fill="#222" >8000</text>
<line x1="483.8" y1="291.3" x2="483.8" y2="293.5" stroke="#a8a8a8" stroke-width="1.0"/>
<text x="483.4" y="299.6" font-size="4.2" text-anchor="middle" font-weight="normal" fill="#222" >10000</text>
<line x1="512" y1="291.3" x2="512" y2="293.5" stroke="#a8a8a8" stroke-width="1.0"/>
<text x="511.6" y="299.6" font-size="4.2" text-anchor="middle" font-weight="normal" fill="#222" >12000</text>
<text x="407.54" y="312" font-size="9.1" fill="#2a2a2a" textLength="88.9" lengthAdjust="spacingAndGlyphs">Chromosome 7 Probe</text>
<text transform="translate(370.7,223.6) rotate(-90)" font-size="9.3" fill="#2a2a2a" text-anchor="middle" textLength="29" lengthAdjust="spacingAndGlyphs">Events</text>
</svg>
</body></html>
